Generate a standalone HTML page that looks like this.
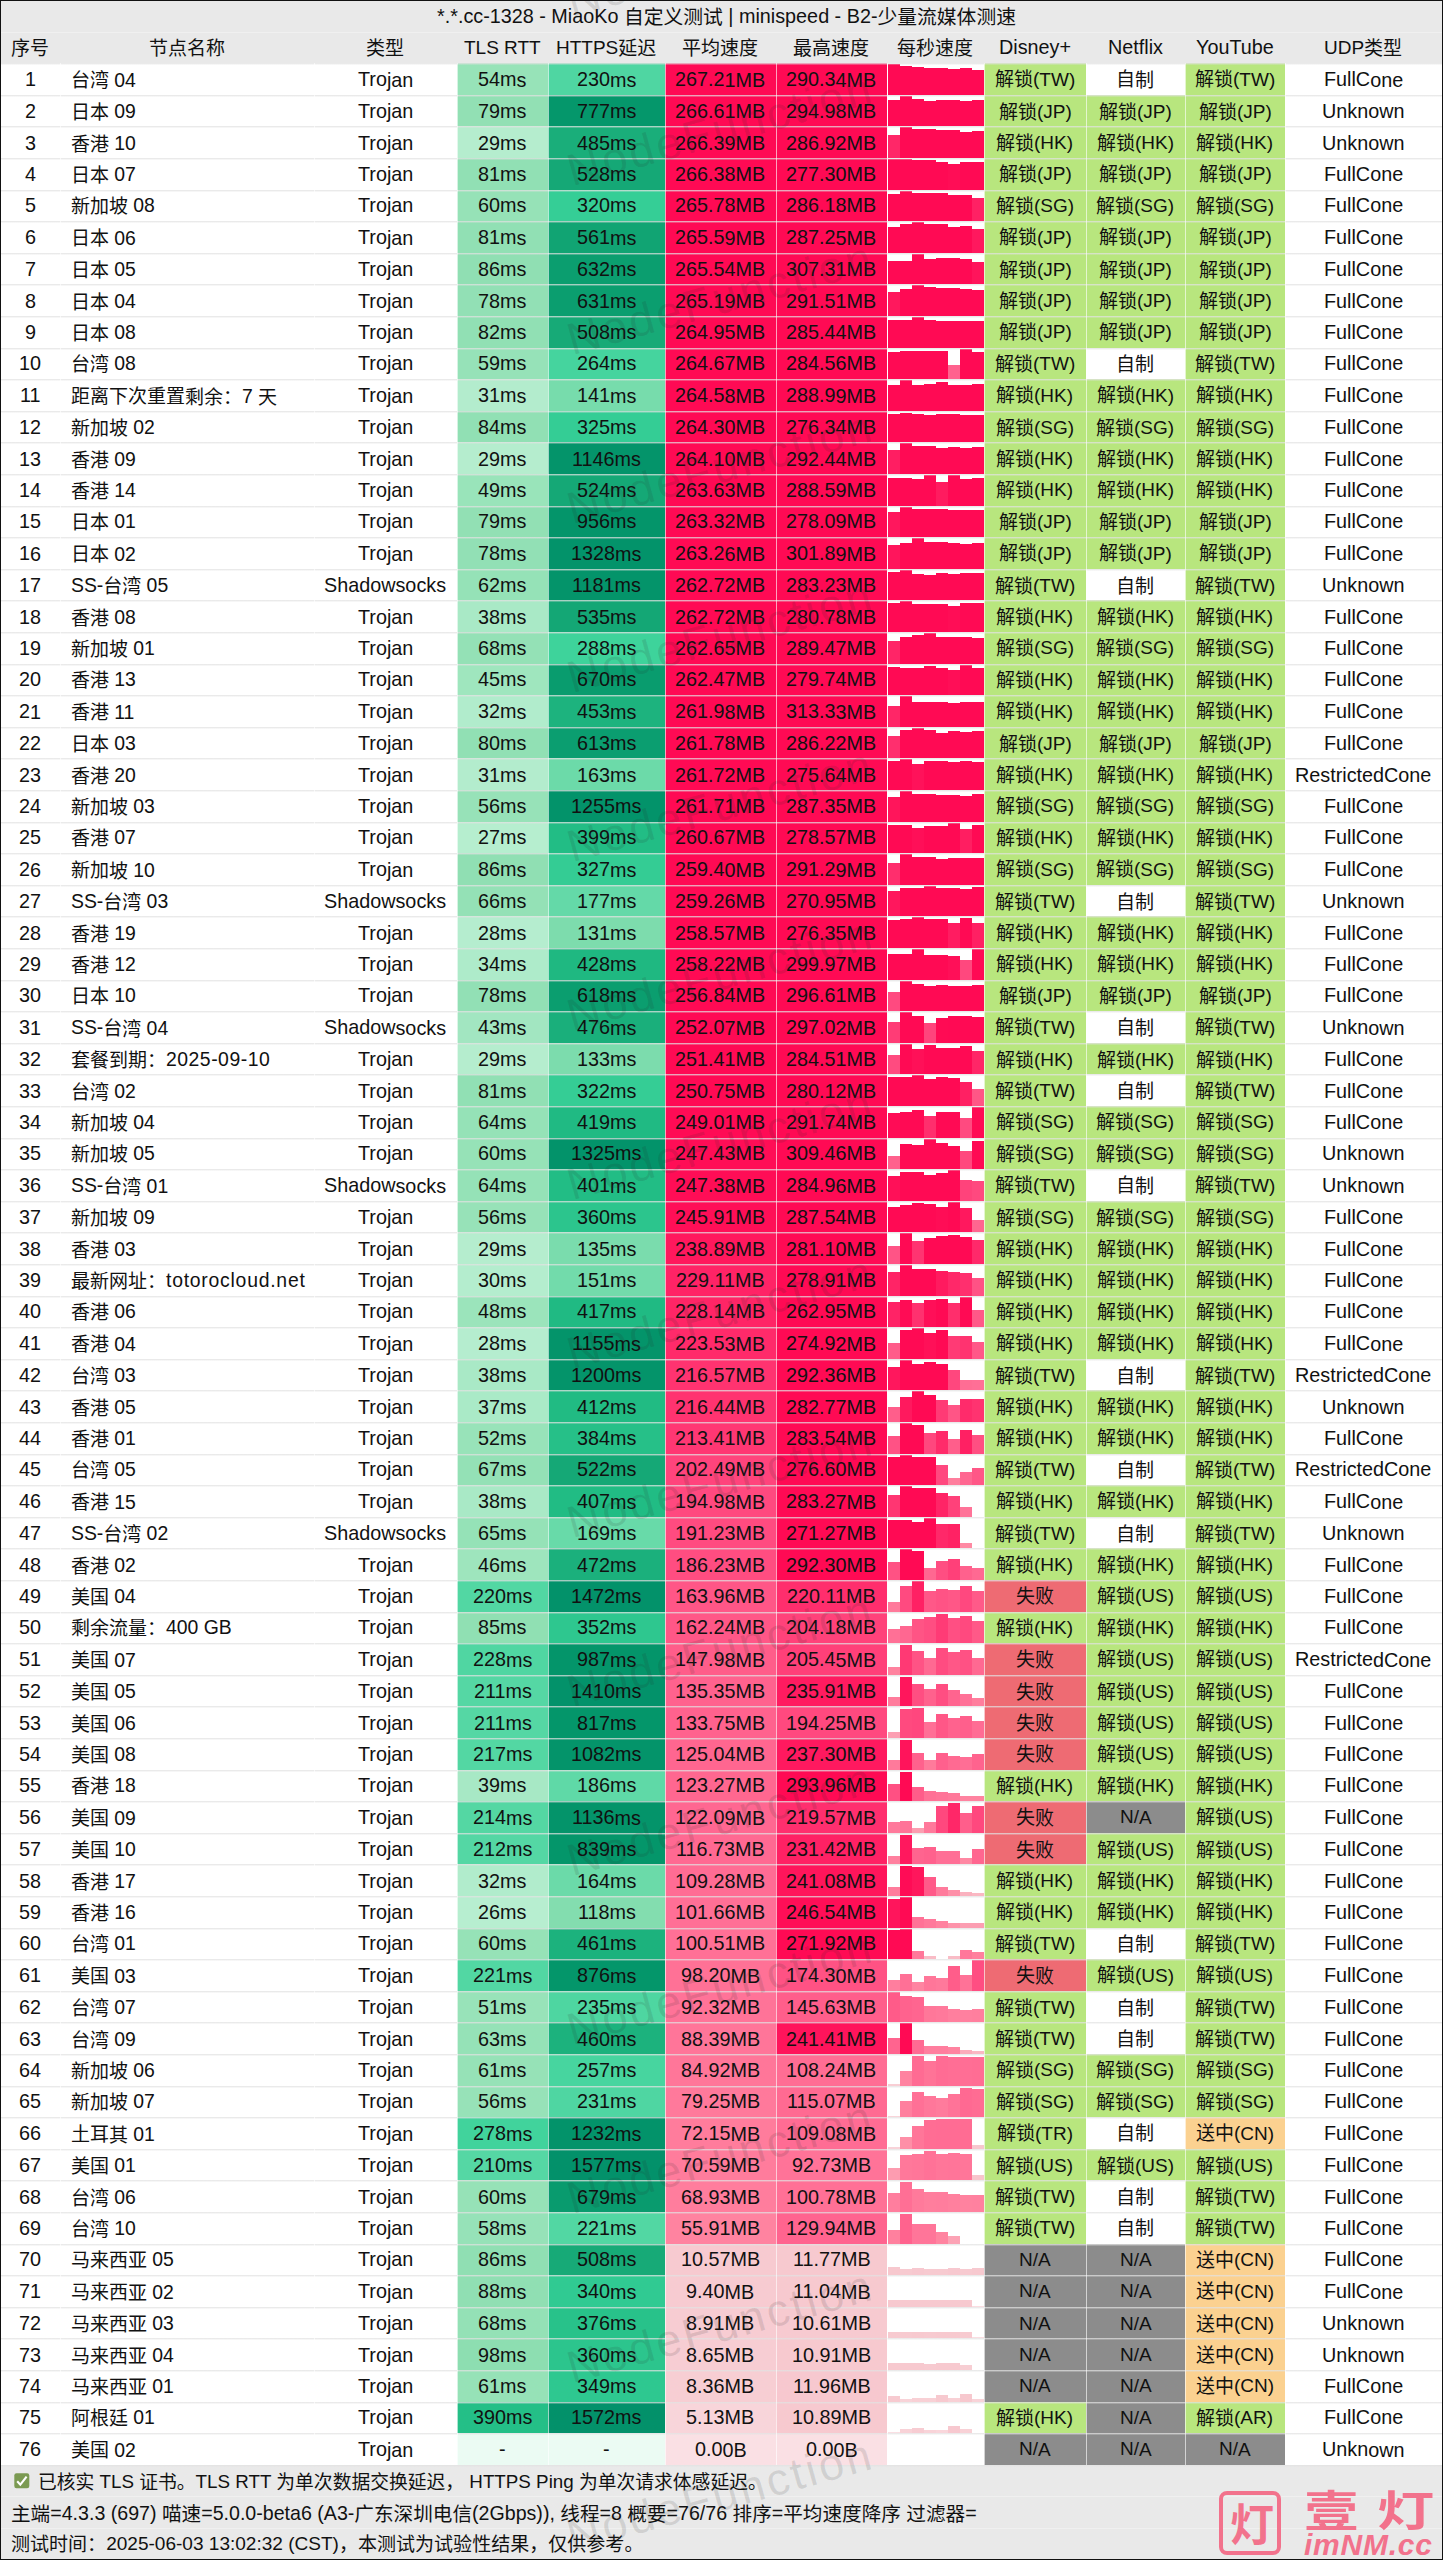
<!DOCTYPE html><html lang="zh-CN"><head><meta charset="utf-8"><title>MiaoKo</title><style>

html,body{margin:0;padding:0;overflow:hidden}
body{width:1443px;height:2560px;position:relative;overflow:hidden;background:#fff;
 font-family:"Liberation Sans","Noto Sans CJK SC",sans-serif;font-size:19px;color:#111;}
.r{position:absolute;left:0;width:1443px;white-space:nowrap}
.c{position:absolute;top:0;height:100%;text-align:center;overflow:hidden}
.c span,.f{position:relative;display:inline-block;transform:translateY(calc(var(--d) + 1.5px)) rotate(.01deg)}
b{font-weight:normal;position:relative;top:-1px}
.n{text-align:left}
.n span{padding-left:11px}
.g{background:#e9e9e9}
.hl{position:absolute;left:1px;right:1px;height:2px;background:linear-gradient(rgba(226,226,226,.72) 50%,rgba(226,226,226,.3) 50%)}
.vl{position:absolute;width:1px;background:rgba(255,255,255,.62)}
.n b{font-size:19.4px}
.w1 b{letter-spacing:.5px}
.w2 b{letter-spacing:.75px}
.L b{font-size:19.8px}
.b{position:absolute;bottom:0}
.f{position:absolute;left:11px;white-space:nowrap;top:0}
.wm{position:absolute;font-size:45px;line-height:45px;height:45px;letter-spacing:3px;color:rgba(40,40,40,.13);transform-origin:0 100%;transform:rotate(-15.5deg);white-space:nowrap;font-family:"Liberation Sans",sans-serif}
.L{}

</style></head><body>
<div class="r g" style="top:0;height:63px"></div>
<div class="r g" style="top:2465px;height:95px"></div>
<div class="r" style="top:0px;height:32px;line-height:32px;--d:-0.20px"><div class="c" style="left:5px;width:1443px;font-size:19.8px"><span><b>*.*.cc-1328 - MiaoKo</b> 自定义测试 <b>| minispeed - B2-</b>少量流媒体测速</span></div></div>
<div class="r" style="top:32px;height:31px;line-height:31px;--d:-0.10px">
<div class="c" style="left:1px;width:59px"><span>序号</span></div>
<div class="c" style="left:60px;width:254px"><span>节点名称</span></div>
<div class="c" style="left:314px;width:143px"><span>类型</span></div>
<div class="c" style="left:457px;width:91px"><span><b>TLS RTT</b></span></div>
<div class="c" style="left:548px;width:117px"><span><b>HTTPS</b>延迟</span></div>
<div class="c" style="left:665px;width:111px"><span>平均速度</span></div>
<div class="c" style="left:776px;width:111px"><span>最高速度</span></div>
<div class="c" style="left:887px;width:97px"><span>每秒速度</span></div>
<div class="c L" style="left:984px;width:102px"><span><b>Disney+</b></span></div>
<div class="c L" style="left:1086px;width:99px"><span><b>Netflix</b></span></div>
<div class="c L" style="left:1185px;width:100px"><span><b>YouTube</b></span></div>
<div class="c" style="left:1285px;width:157px"><span><b>UDP</b>类型</span></div>
</div>
<div class="r" style="top:63px;height:32px;line-height:32px;--d:0.00px">
<div class="c L" style="left:1px;width:59px"><span><b>1</b></span></div>
<div class="c n" style="left:60px;width:254px"><span>台湾 <b>04</b></span></div>
<div class="c L" style="left:314px;width:143px"><span><b>Trojan</b></span></div>
<div class="c L" style="left:457px;width:91px;background:#97e3b8"><span><b>54ms</b></span></div>
<div class="c L" style="left:548px;width:117px;background:#4fd6a2"><span><b>230ms</b></span></div>
<div class="c L" style="left:665px;width:111px;background:#ff0a54"><span><b>267.21MB</b></span></div>
<div class="c L" style="left:776px;width:111px;background:#ff0a54"><span><b>290.34MB</b></span></div>
<div class="c" style="left:887px;width:97px">
<i class="b" style="left:1px;width:12px;height:31px;background:#ff0a54"></i>
<i class="b" style="left:13px;width:12px;height:29px;background:#ff0a54"></i>
<i class="b" style="left:25px;width:12px;height:28px;background:#ff0a54"></i>
<i class="b" style="left:37px;width:12px;height:27px;background:#ff0a54"></i>
<i class="b" style="left:49px;width:12px;height:27px;background:#ff0a54"></i>
<i class="b" style="left:61px;width:12px;height:26px;background:#ff0a54"></i>
<i class="b" style="left:73px;width:12px;height:27px;background:#ff0a54"></i>
<i class="b" style="left:85px;width:12px;height:25px;background:#ff0a54"></i>
</div>
<div class="c" style="left:984px;width:102px;background:#b8e67e"><span>解锁<b>(TW)</b></span></div>
<div class="c" style="left:1086px;width:99px;background:#ffffff"><span>自制</span></div>
<div class="c" style="left:1185px;width:100px;background:#b8e67e"><span>解锁<b>(TW)</b></span></div>
<div class="c L" style="left:1285px;width:157px"><span><b>FullCone</b></span></div>
</div>
<div class="r" style="top:95px;height:31px;line-height:31px;--d:0.10px">
<div class="c L" style="left:1px;width:59px"><span><b>2</b></span></div>
<div class="c n" style="left:60px;width:254px"><span>日本 <b>09</b></span></div>
<div class="c L" style="left:314px;width:143px"><span><b>Trojan</b></span></div>
<div class="c L" style="left:457px;width:91px;background:#92e0b4"><span><b>79ms</b></span></div>
<div class="c L" style="left:548px;width:117px;background:#05976b"><span><b>777ms</b></span></div>
<div class="c L" style="left:665px;width:111px;background:#ff0a54"><span><b>266.61MB</b></span></div>
<div class="c L" style="left:776px;width:111px;background:#ff0a54"><span><b>294.98MB</b></span></div>
<div class="c" style="left:887px;width:97px">
<i class="b" style="left:1px;width:12px;height:26px;background:#ff0a54"></i>
<i class="b" style="left:13px;width:12px;height:30px;background:#ff0a54"></i>
<i class="b" style="left:25px;width:12px;height:27px;background:#ff0a54"></i>
<i class="b" style="left:37px;width:12px;height:25px;background:#ff0a54"></i>
<i class="b" style="left:49px;width:12px;height:26px;background:#ff0a54"></i>
<i class="b" style="left:61px;width:12px;height:26px;background:#ff0a54"></i>
<i class="b" style="left:73px;width:12px;height:25px;background:#ff0a54"></i>
<i class="b" style="left:85px;width:12px;height:26px;background:#ff0a54"></i>
</div>
<div class="c" style="left:984px;width:102px;background:#b8e67e"><span>解锁<b>(JP)</b></span></div>
<div class="c" style="left:1086px;width:99px;background:#b8e67e"><span>解锁<b>(JP)</b></span></div>
<div class="c" style="left:1185px;width:100px;background:#b8e67e"><span>解锁<b>(JP)</b></span></div>
<div class="c L" style="left:1285px;width:157px"><span><b>Unknown</b></span></div>
</div>
<div class="r" style="top:126px;height:32px;line-height:32px;--d:0.20px">
<div class="c L" style="left:1px;width:59px"><span><b>3</b></span></div>
<div class="c n" style="left:60px;width:254px"><span>香港 <b>10</b></span></div>
<div class="c L" style="left:314px;width:143px"><span><b>Trojan</b></span></div>
<div class="c L" style="left:457px;width:91px;background:#b5edce"><span><b>29ms</b></span></div>
<div class="c L" style="left:548px;width:117px;background:#1aae7a"><span><b>485ms</b></span></div>
<div class="c L" style="left:665px;width:111px;background:#ff0a54"><span><b>266.39MB</b></span></div>
<div class="c L" style="left:776px;width:111px;background:#ff0a54"><span><b>286.92MB</b></span></div>
<div class="c" style="left:887px;width:97px">
<i class="b" style="left:1px;width:12px;height:23px;background:#ff2768"></i>
<i class="b" style="left:13px;width:12px;height:31px;background:#ff0a54"></i>
<i class="b" style="left:25px;width:12px;height:29px;background:#ff0a54"></i>
<i class="b" style="left:37px;width:12px;height:29px;background:#ff0a54"></i>
<i class="b" style="left:49px;width:12px;height:28px;background:#ff0a54"></i>
<i class="b" style="left:61px;width:12px;height:28px;background:#ff0a54"></i>
<i class="b" style="left:73px;width:12px;height:26px;background:#ff0a54"></i>
<i class="b" style="left:85px;width:12px;height:27px;background:#ff0a54"></i>
</div>
<div class="c" style="left:984px;width:102px;background:#b8e67e"><span>解锁<b>(HK)</b></span></div>
<div class="c" style="left:1086px;width:99px;background:#b8e67e"><span>解锁<b>(HK)</b></span></div>
<div class="c" style="left:1185px;width:100px;background:#b8e67e"><span>解锁<b>(HK)</b></span></div>
<div class="c L" style="left:1285px;width:157px"><span><b>Unknown</b></span></div>
</div>
<div class="r" style="top:158px;height:32px;line-height:32px;--d:-0.20px">
<div class="c L" style="left:1px;width:59px"><span><b>4</b></span></div>
<div class="c n" style="left:60px;width:254px"><span>日本 <b>07</b></span></div>
<div class="c L" style="left:314px;width:143px"><span><b>Trojan</b></span></div>
<div class="c L" style="left:457px;width:91px;background:#91e0b4"><span><b>81ms</b></span></div>
<div class="c L" style="left:548px;width:117px;background:#15a876"><span><b>528ms</b></span></div>
<div class="c L" style="left:665px;width:111px;background:#ff0a54"><span><b>266.38MB</b></span></div>
<div class="c L" style="left:776px;width:111px;background:#ff0a54"><span><b>277.30MB</b></span></div>
<div class="c" style="left:887px;width:97px">
<i class="b" style="left:1px;width:12px;height:31px;background:#ff0a54"></i>
<i class="b" style="left:13px;width:12px;height:31px;background:#ff0a54"></i>
<i class="b" style="left:25px;width:12px;height:30px;background:#ff0a54"></i>
<i class="b" style="left:37px;width:12px;height:30px;background:#ff0a54"></i>
<i class="b" style="left:49px;width:12px;height:28px;background:#ff0a54"></i>
<i class="b" style="left:61px;width:12px;height:26px;background:#ff0d56"></i>
<i class="b" style="left:73px;width:12px;height:28px;background:#ff0a54"></i>
<i class="b" style="left:85px;width:12px;height:28px;background:#ff0a54"></i>
</div>
<div class="c" style="left:984px;width:102px;background:#b8e67e"><span>解锁<b>(JP)</b></span></div>
<div class="c" style="left:1086px;width:99px;background:#b8e67e"><span>解锁<b>(JP)</b></span></div>
<div class="c" style="left:1185px;width:100px;background:#b8e67e"><span>解锁<b>(JP)</b></span></div>
<div class="c L" style="left:1285px;width:157px"><span><b>FullCone</b></span></div>
</div>
<div class="r" style="top:190px;height:31px;line-height:31px;--d:-0.10px">
<div class="c L" style="left:1px;width:59px"><span><b>5</b></span></div>
<div class="c n" style="left:60px;width:254px"><span>新加坡 <b>08</b></span></div>
<div class="c L" style="left:314px;width:143px"><span><b>Trojan</b></span></div>
<div class="c L" style="left:457px;width:91px;background:#96e2b7"><span><b>60ms</b></span></div>
<div class="c L" style="left:548px;width:117px;background:#35ce96"><span><b>320ms</b></span></div>
<div class="c L" style="left:665px;width:111px;background:#ff0a54"><span><b>265.78MB</b></span></div>
<div class="c L" style="left:776px;width:111px;background:#ff0a54"><span><b>286.18MB</b></span></div>
<div class="c" style="left:887px;width:97px">
<i class="b" style="left:1px;width:12px;height:27px;background:#ff0a54"></i>
<i class="b" style="left:13px;width:12px;height:30px;background:#ff0a54"></i>
<i class="b" style="left:25px;width:12px;height:28px;background:#ff0a54"></i>
<i class="b" style="left:37px;width:12px;height:28px;background:#ff0a54"></i>
<i class="b" style="left:49px;width:12px;height:28px;background:#ff0a54"></i>
<i class="b" style="left:61px;width:12px;height:26px;background:#ff0a54"></i>
<i class="b" style="left:73px;width:12px;height:26px;background:#ff0a54"></i>
<i class="b" style="left:85px;width:12px;height:23px;background:#ff2164"></i>
</div>
<div class="c" style="left:984px;width:102px;background:#b8e67e"><span>解锁<b>(SG)</b></span></div>
<div class="c" style="left:1086px;width:99px;background:#b8e67e"><span>解锁<b>(SG)</b></span></div>
<div class="c" style="left:1185px;width:100px;background:#b8e67e"><span>解锁<b>(SG)</b></span></div>
<div class="c L" style="left:1285px;width:157px"><span><b>FullCone</b></span></div>
</div>
<div class="r" style="top:221px;height:32px;line-height:32px;--d:0.00px">
<div class="c L" style="left:1px;width:59px"><span><b>6</b></span></div>
<div class="c n" style="left:60px;width:254px"><span>日本 <b>06</b></span></div>
<div class="c L" style="left:314px;width:143px"><span><b>Trojan</b></span></div>
<div class="c L" style="left:457px;width:91px;background:#91e0b4"><span><b>81ms</b></span></div>
<div class="c L" style="left:548px;width:117px;background:#11a473"><span><b>561ms</b></span></div>
<div class="c L" style="left:665px;width:111px;background:#ff0a54"><span><b>265.59MB</b></span></div>
<div class="c L" style="left:776px;width:111px;background:#ff0a54"><span><b>287.25MB</b></span></div>
<div class="c" style="left:887px;width:97px">
<i class="b" style="left:1px;width:12px;height:26px;background:#ff0a54"></i>
<i class="b" style="left:13px;width:12px;height:29px;background:#ff0a54"></i>
<i class="b" style="left:25px;width:12px;height:31px;background:#ff0a54"></i>
<i class="b" style="left:37px;width:12px;height:29px;background:#ff0a54"></i>
<i class="b" style="left:49px;width:12px;height:29px;background:#ff0a54"></i>
<i class="b" style="left:61px;width:12px;height:26px;background:#ff0a54"></i>
<i class="b" style="left:73px;width:12px;height:27px;background:#ff0a54"></i>
<i class="b" style="left:85px;width:12px;height:24px;background:#ff185e"></i>
</div>
<div class="c" style="left:984px;width:102px;background:#b8e67e"><span>解锁<b>(JP)</b></span></div>
<div class="c" style="left:1086px;width:99px;background:#b8e67e"><span>解锁<b>(JP)</b></span></div>
<div class="c" style="left:1185px;width:100px;background:#b8e67e"><span>解锁<b>(JP)</b></span></div>
<div class="c L" style="left:1285px;width:157px"><span><b>FullCone</b></span></div>
</div>
<div class="r" style="top:253px;height:31px;line-height:31px;--d:0.10px">
<div class="c L" style="left:1px;width:59px"><span><b>7</b></span></div>
<div class="c n" style="left:60px;width:254px"><span>日本 <b>05</b></span></div>
<div class="c L" style="left:314px;width:143px"><span><b>Trojan</b></span></div>
<div class="c L" style="left:457px;width:91px;background:#90dfb3"><span><b>86ms</b></span></div>
<div class="c L" style="left:548px;width:117px;background:#0b9e6f"><span><b>632ms</b></span></div>
<div class="c L" style="left:665px;width:111px;background:#ff0a54"><span><b>265.54MB</b></span></div>
<div class="c L" style="left:776px;width:111px;background:#ff0a54"><span><b>307.31MB</b></span></div>
<div class="c" style="left:887px;width:97px">
<i class="b" style="left:1px;width:12px;height:23px;background:#ff0a54"></i>
<i class="b" style="left:13px;width:12px;height:23px;background:#ff0a54"></i>
<i class="b" style="left:25px;width:12px;height:30px;background:#ff0a54"></i>
<i class="b" style="left:37px;width:12px;height:25px;background:#ff0a54"></i>
<i class="b" style="left:49px;width:12px;height:26px;background:#ff0a54"></i>
<i class="b" style="left:61px;width:12px;height:26px;background:#ff0a54"></i>
<i class="b" style="left:73px;width:12px;height:25px;background:#ff0a54"></i>
<i class="b" style="left:85px;width:12px;height:22px;background:#ff145b"></i>
</div>
<div class="c" style="left:984px;width:102px;background:#b8e67e"><span>解锁<b>(JP)</b></span></div>
<div class="c" style="left:1086px;width:99px;background:#b8e67e"><span>解锁<b>(JP)</b></span></div>
<div class="c" style="left:1185px;width:100px;background:#b8e67e"><span>解锁<b>(JP)</b></span></div>
<div class="c L" style="left:1285px;width:157px"><span><b>FullCone</b></span></div>
</div>
<div class="r" style="top:284px;height:32px;line-height:32px;--d:0.20px">
<div class="c L" style="left:1px;width:59px"><span><b>8</b></span></div>
<div class="c n" style="left:60px;width:254px"><span>日本 <b>04</b></span></div>
<div class="c L" style="left:314px;width:143px"><span><b>Trojan</b></span></div>
<div class="c L" style="left:457px;width:91px;background:#92e0b5"><span><b>78ms</b></span></div>
<div class="c L" style="left:548px;width:117px;background:#0b9e6f"><span><b>631ms</b></span></div>
<div class="c L" style="left:665px;width:111px;background:#ff0a54"><span><b>265.19MB</b></span></div>
<div class="c L" style="left:776px;width:111px;background:#ff0a54"><span><b>291.51MB</b></span></div>
<div class="c" style="left:887px;width:97px">
<i class="b" style="left:1px;width:12px;height:24px;background:#ff185d"></i>
<i class="b" style="left:13px;width:12px;height:27px;background:#ff0a54"></i>
<i class="b" style="left:25px;width:12px;height:31px;background:#ff0a54"></i>
<i class="b" style="left:37px;width:12px;height:29px;background:#ff0a54"></i>
<i class="b" style="left:49px;width:12px;height:28px;background:#ff0a54"></i>
<i class="b" style="left:61px;width:12px;height:28px;background:#ff0a54"></i>
<i class="b" style="left:73px;width:12px;height:27px;background:#ff0a54"></i>
<i class="b" style="left:85px;width:12px;height:26px;background:#ff0a54"></i>
</div>
<div class="c" style="left:984px;width:102px;background:#b8e67e"><span>解锁<b>(JP)</b></span></div>
<div class="c" style="left:1086px;width:99px;background:#b8e67e"><span>解锁<b>(JP)</b></span></div>
<div class="c" style="left:1185px;width:100px;background:#b8e67e"><span>解锁<b>(JP)</b></span></div>
<div class="c L" style="left:1285px;width:157px"><span><b>FullCone</b></span></div>
</div>
<div class="r" style="top:316px;height:32px;line-height:32px;--d:-0.20px">
<div class="c L" style="left:1px;width:59px"><span><b>9</b></span></div>
<div class="c n" style="left:60px;width:254px"><span>日本 <b>08</b></span></div>
<div class="c L" style="left:314px;width:143px"><span><b>Trojan</b></span></div>
<div class="c L" style="left:457px;width:91px;background:#91e0b4"><span><b>82ms</b></span></div>
<div class="c L" style="left:548px;width:117px;background:#17aa77"><span><b>508ms</b></span></div>
<div class="c L" style="left:665px;width:111px;background:#ff0a54"><span><b>264.95MB</b></span></div>
<div class="c L" style="left:776px;width:111px;background:#ff0a54"><span><b>285.44MB</b></span></div>
<div class="c" style="left:887px;width:97px">
<i class="b" style="left:1px;width:12px;height:28px;background:#ff0a54"></i>
<i class="b" style="left:13px;width:12px;height:28px;background:#ff0a54"></i>
<i class="b" style="left:25px;width:12px;height:31px;background:#ff0a54"></i>
<i class="b" style="left:37px;width:12px;height:28px;background:#ff0a54"></i>
<i class="b" style="left:49px;width:12px;height:27px;background:#ff0a54"></i>
<i class="b" style="left:61px;width:12px;height:27px;background:#ff0a54"></i>
<i class="b" style="left:73px;width:12px;height:27px;background:#ff0a54"></i>
<i class="b" style="left:85px;width:12px;height:27px;background:#ff0a54"></i>
</div>
<div class="c" style="left:984px;width:102px;background:#b8e67e"><span>解锁<b>(JP)</b></span></div>
<div class="c" style="left:1086px;width:99px;background:#b8e67e"><span>解锁<b>(JP)</b></span></div>
<div class="c" style="left:1185px;width:100px;background:#b8e67e"><span>解锁<b>(JP)</b></span></div>
<div class="c L" style="left:1285px;width:157px"><span><b>FullCone</b></span></div>
</div>
<div class="r" style="top:348px;height:31px;line-height:31px;--d:-0.10px">
<div class="c L" style="left:1px;width:59px"><span><b>10</b></span></div>
<div class="c n" style="left:60px;width:254px"><span>台湾 <b>08</b></span></div>
<div class="c L" style="left:314px;width:143px"><span><b>Trojan</b></span></div>
<div class="c L" style="left:457px;width:91px;background:#96e2b8"><span><b>59ms</b></span></div>
<div class="c L" style="left:548px;width:117px;background:#45d49e"><span><b>264ms</b></span></div>
<div class="c L" style="left:665px;width:111px;background:#ff0a54"><span><b>264.67MB</b></span></div>
<div class="c L" style="left:776px;width:111px;background:#ff0a54"><span><b>284.56MB</b></span></div>
<div class="c" style="left:887px;width:97px">
<i class="b" style="left:1px;width:12px;height:27px;background:#ff0a54"></i>
<i class="b" style="left:13px;width:12px;height:28px;background:#ff0a54"></i>
<i class="b" style="left:25px;width:12px;height:28px;background:#ff0a54"></i>
<i class="b" style="left:37px;width:12px;height:28px;background:#ff0a54"></i>
<i class="b" style="left:49px;width:12px;height:28px;background:#ff0a54"></i>
<i class="b" style="left:61px;width:12px;height:14px;background:#ff628e"></i>
<i class="b" style="left:73px;width:12px;height:30px;background:#ff0a54"></i>
<i class="b" style="left:85px;width:12px;height:27px;background:#ff0a54"></i>
</div>
<div class="c" style="left:984px;width:102px;background:#b8e67e"><span>解锁<b>(TW)</b></span></div>
<div class="c" style="left:1086px;width:99px;background:#ffffff"><span>自制</span></div>
<div class="c" style="left:1185px;width:100px;background:#b8e67e"><span>解锁<b>(TW)</b></span></div>
<div class="c L" style="left:1285px;width:157px"><span><b>FullCone</b></span></div>
</div>
<div class="r" style="top:379px;height:32px;line-height:32px;--d:0.00px">
<div class="c L" style="left:1px;width:59px"><span><b>11</b></span></div>
<div class="c n" style="left:60px;width:254px"><span>距离下次重置剩余：<b>7</b> 天</span></div>
<div class="c L" style="left:314px;width:143px"><span><b>Trojan</b></span></div>
<div class="c L" style="left:457px;width:91px;background:#b3eccd"><span><b>31ms</b></span></div>
<div class="c L" style="left:548px;width:117px;background:#77dcac"><span><b>141ms</b></span></div>
<div class="c L" style="left:665px;width:111px;background:#ff0a54"><span><b>264.58MB</b></span></div>
<div class="c L" style="left:776px;width:111px;background:#ff0a54"><span><b>288.99MB</b></span></div>
<div class="c" style="left:887px;width:97px">
<i class="b" style="left:1px;width:12px;height:26px;background:#ff0a54"></i>
<i class="b" style="left:13px;width:12px;height:31px;background:#ff0a54"></i>
<i class="b" style="left:25px;width:12px;height:26px;background:#ff0a54"></i>
<i class="b" style="left:37px;width:12px;height:27px;background:#ff0a54"></i>
<i class="b" style="left:49px;width:12px;height:29px;background:#ff0a54"></i>
<i class="b" style="left:61px;width:12px;height:26px;background:#ff0a54"></i>
<i class="b" style="left:73px;width:12px;height:26px;background:#ff0a54"></i>
<i class="b" style="left:85px;width:12px;height:27px;background:#ff0a54"></i>
</div>
<div class="c" style="left:984px;width:102px;background:#b8e67e"><span>解锁<b>(HK)</b></span></div>
<div class="c" style="left:1086px;width:99px;background:#b8e67e"><span>解锁<b>(HK)</b></span></div>
<div class="c" style="left:1185px;width:100px;background:#b8e67e"><span>解锁<b>(HK)</b></span></div>
<div class="c L" style="left:1285px;width:157px"><span><b>FullCone</b></span></div>
</div>
<div class="r" style="top:411px;height:31px;line-height:31px;--d:0.10px">
<div class="c L" style="left:1px;width:59px"><span><b>12</b></span></div>
<div class="c n" style="left:60px;width:254px"><span>新加坡 <b>02</b></span></div>
<div class="c L" style="left:314px;width:143px"><span><b>Trojan</b></span></div>
<div class="c L" style="left:457px;width:91px;background:#91e0b4"><span><b>84ms</b></span></div>
<div class="c L" style="left:548px;width:117px;background:#34cd95"><span><b>325ms</b></span></div>
<div class="c L" style="left:665px;width:111px;background:#ff0a54"><span><b>264.30MB</b></span></div>
<div class="c L" style="left:776px;width:111px;background:#ff0a54"><span><b>276.34MB</b></span></div>
<div class="c" style="left:887px;width:97px">
<i class="b" style="left:1px;width:12px;height:28px;background:#ff0a54"></i>
<i class="b" style="left:13px;width:12px;height:29px;background:#ff0a54"></i>
<i class="b" style="left:25px;width:12px;height:28px;background:#ff0a54"></i>
<i class="b" style="left:37px;width:12px;height:27px;background:#ff0a54"></i>
<i class="b" style="left:49px;width:12px;height:28px;background:#ff0a54"></i>
<i class="b" style="left:61px;width:12px;height:28px;background:#ff0a54"></i>
<i class="b" style="left:73px;width:12px;height:27px;background:#ff0a54"></i>
<i class="b" style="left:85px;width:12px;height:27px;background:#ff0a54"></i>
</div>
<div class="c" style="left:984px;width:102px;background:#b8e67e"><span>解锁<b>(SG)</b></span></div>
<div class="c" style="left:1086px;width:99px;background:#b8e67e"><span>解锁<b>(SG)</b></span></div>
<div class="c" style="left:1185px;width:100px;background:#b8e67e"><span>解锁<b>(SG)</b></span></div>
<div class="c L" style="left:1285px;width:157px"><span><b>FullCone</b></span></div>
</div>
<div class="r" style="top:442px;height:32px;line-height:32px;--d:0.20px">
<div class="c L" style="left:1px;width:59px"><span><b>13</b></span></div>
<div class="c n" style="left:60px;width:254px"><span>香港 <b>09</b></span></div>
<div class="c L" style="left:314px;width:143px"><span><b>Trojan</b></span></div>
<div class="c L" style="left:457px;width:91px;background:#b5edce"><span><b>29ms</b></span></div>
<div class="c L" style="left:548px;width:117px;background:#04946a"><span><b>1146ms</b></span></div>
<div class="c L" style="left:665px;width:111px;background:#ff0a54"><span><b>264.10MB</b></span></div>
<div class="c L" style="left:776px;width:111px;background:#ff0a54"><span><b>292.44MB</b></span></div>
<div class="c" style="left:887px;width:97px">
<i class="b" style="left:1px;width:12px;height:24px;background:#ff1e62"></i>
<i class="b" style="left:13px;width:12px;height:31px;background:#ff0a54"></i>
<i class="b" style="left:25px;width:12px;height:28px;background:#ff0a54"></i>
<i class="b" style="left:37px;width:12px;height:28px;background:#ff0a54"></i>
<i class="b" style="left:49px;width:12px;height:26px;background:#ff0a54"></i>
<i class="b" style="left:61px;width:12px;height:27px;background:#ff0a54"></i>
<i class="b" style="left:73px;width:12px;height:26px;background:#ff0a54"></i>
<i class="b" style="left:85px;width:12px;height:27px;background:#ff0a54"></i>
</div>
<div class="c" style="left:984px;width:102px;background:#b8e67e"><span>解锁<b>(HK)</b></span></div>
<div class="c" style="left:1086px;width:99px;background:#b8e67e"><span>解锁<b>(HK)</b></span></div>
<div class="c" style="left:1185px;width:100px;background:#b8e67e"><span>解锁<b>(HK)</b></span></div>
<div class="c L" style="left:1285px;width:157px"><span><b>FullCone</b></span></div>
</div>
<div class="r" style="top:474px;height:32px;line-height:32px;--d:-0.20px">
<div class="c L" style="left:1px;width:59px"><span><b>14</b></span></div>
<div class="c n" style="left:60px;width:254px"><span>香港 <b>14</b></span></div>
<div class="c L" style="left:314px;width:143px"><span><b>Trojan</b></span></div>
<div class="c L" style="left:457px;width:91px;background:#99e4ba"><span><b>49ms</b></span></div>
<div class="c L" style="left:548px;width:117px;background:#15a876"><span><b>524ms</b></span></div>
<div class="c L" style="left:665px;width:111px;background:#ff0a54"><span><b>263.63MB</b></span></div>
<div class="c L" style="left:776px;width:111px;background:#ff0a54"><span><b>288.59MB</b></span></div>
<div class="c" style="left:887px;width:97px">
<i class="b" style="left:1px;width:12px;height:28px;background:#ff0a54"></i>
<i class="b" style="left:13px;width:12px;height:28px;background:#ff0a54"></i>
<i class="b" style="left:25px;width:12px;height:27px;background:#ff0a54"></i>
<i class="b" style="left:37px;width:12px;height:31px;background:#ff0a54"></i>
<i class="b" style="left:49px;width:12px;height:24px;background:#ff1b5f"></i>
<i class="b" style="left:61px;width:12px;height:31px;background:#ff0a54"></i>
<i class="b" style="left:73px;width:12px;height:27px;background:#ff0a54"></i>
<i class="b" style="left:85px;width:12px;height:28px;background:#ff0a54"></i>
</div>
<div class="c" style="left:984px;width:102px;background:#b8e67e"><span>解锁<b>(HK)</b></span></div>
<div class="c" style="left:1086px;width:99px;background:#b8e67e"><span>解锁<b>(HK)</b></span></div>
<div class="c" style="left:1185px;width:100px;background:#b8e67e"><span>解锁<b>(HK)</b></span></div>
<div class="c L" style="left:1285px;width:157px"><span><b>FullCone</b></span></div>
</div>
<div class="r" style="top:506px;height:31px;line-height:31px;--d:-0.10px">
<div class="c L" style="left:1px;width:59px"><span><b>15</b></span></div>
<div class="c n" style="left:60px;width:254px"><span>日本 <b>01</b></span></div>
<div class="c L" style="left:314px;width:143px"><span><b>Trojan</b></span></div>
<div class="c L" style="left:457px;width:91px;background:#92e0b4"><span><b>79ms</b></span></div>
<div class="c L" style="left:548px;width:117px;background:#04956a"><span><b>956ms</b></span></div>
<div class="c L" style="left:665px;width:111px;background:#ff0a54"><span><b>263.32MB</b></span></div>
<div class="c L" style="left:776px;width:111px;background:#ff0a54"><span><b>278.09MB</b></span></div>
<div class="c" style="left:887px;width:97px">
<i class="b" style="left:1px;width:12px;height:25px;background:#ff175d"></i>
<i class="b" style="left:13px;width:12px;height:30px;background:#ff0a54"></i>
<i class="b" style="left:25px;width:12px;height:28px;background:#ff0a54"></i>
<i class="b" style="left:37px;width:12px;height:28px;background:#ff0a54"></i>
<i class="b" style="left:49px;width:12px;height:28px;background:#ff0a54"></i>
<i class="b" style="left:61px;width:12px;height:27px;background:#ff0a54"></i>
<i class="b" style="left:73px;width:12px;height:27px;background:#ff0a54"></i>
<i class="b" style="left:85px;width:12px;height:27px;background:#ff0a54"></i>
</div>
<div class="c" style="left:984px;width:102px;background:#b8e67e"><span>解锁<b>(JP)</b></span></div>
<div class="c" style="left:1086px;width:99px;background:#b8e67e"><span>解锁<b>(JP)</b></span></div>
<div class="c" style="left:1185px;width:100px;background:#b8e67e"><span>解锁<b>(JP)</b></span></div>
<div class="c L" style="left:1285px;width:157px"><span><b>FullCone</b></span></div>
</div>
<div class="r" style="top:537px;height:32px;line-height:32px;--d:0.00px">
<div class="c L" style="left:1px;width:59px"><span><b>16</b></span></div>
<div class="c n" style="left:60px;width:254px"><span>日本 <b>02</b></span></div>
<div class="c L" style="left:314px;width:143px"><span><b>Trojan</b></span></div>
<div class="c L" style="left:457px;width:91px;background:#92e0b5"><span><b>78ms</b></span></div>
<div class="c L" style="left:548px;width:117px;background:#03936a"><span><b>1328ms</b></span></div>
<div class="c L" style="left:665px;width:111px;background:#ff0a54"><span><b>263.26MB</b></span></div>
<div class="c L" style="left:776px;width:111px;background:#ff0a54"><span><b>301.89MB</b></span></div>
<div class="c" style="left:887px;width:97px">
<i class="b" style="left:1px;width:12px;height:24px;background:#ff155c"></i>
<i class="b" style="left:13px;width:12px;height:26px;background:#ff0a54"></i>
<i class="b" style="left:25px;width:12px;height:31px;background:#ff0a54"></i>
<i class="b" style="left:37px;width:12px;height:27px;background:#ff0a54"></i>
<i class="b" style="left:49px;width:12px;height:27px;background:#ff0a54"></i>
<i class="b" style="left:61px;width:12px;height:26px;background:#ff0a54"></i>
<i class="b" style="left:73px;width:12px;height:25px;background:#ff0a54"></i>
<i class="b" style="left:85px;width:12px;height:26px;background:#ff0a54"></i>
</div>
<div class="c" style="left:984px;width:102px;background:#b8e67e"><span>解锁<b>(JP)</b></span></div>
<div class="c" style="left:1086px;width:99px;background:#b8e67e"><span>解锁<b>(JP)</b></span></div>
<div class="c" style="left:1185px;width:100px;background:#b8e67e"><span>解锁<b>(JP)</b></span></div>
<div class="c L" style="left:1285px;width:157px"><span><b>FullCone</b></span></div>
</div>
<div class="r" style="top:569px;height:31px;line-height:31px;--d:0.10px">
<div class="c L" style="left:1px;width:59px"><span><b>17</b></span></div>
<div class="c n" style="left:60px;width:254px"><span><b>SS-</b>台湾 <b>05</b></span></div>
<div class="c L" style="left:314px;width:143px"><span><b>Shadowsocks</b></span></div>
<div class="c L" style="left:457px;width:91px;background:#95e2b7"><span><b>62ms</b></span></div>
<div class="c L" style="left:548px;width:117px;background:#04946a"><span><b>1181ms</b></span></div>
<div class="c L" style="left:665px;width:111px;background:#ff0a54"><span><b>262.72MB</b></span></div>
<div class="c L" style="left:776px;width:111px;background:#ff0a54"><span><b>283.23MB</b></span></div>
<div class="c" style="left:887px;width:97px">
<i class="b" style="left:1px;width:12px;height:28px;background:#ff0a54"></i>
<i class="b" style="left:13px;width:12px;height:30px;background:#ff0a54"></i>
<i class="b" style="left:25px;width:12px;height:26px;background:#ff0a54"></i>
<i class="b" style="left:37px;width:12px;height:25px;background:#ff0a54"></i>
<i class="b" style="left:49px;width:12px;height:27px;background:#ff0a54"></i>
<i class="b" style="left:61px;width:12px;height:26px;background:#ff0a54"></i>
<i class="b" style="left:73px;width:12px;height:27px;background:#ff0a54"></i>
<i class="b" style="left:85px;width:12px;height:27px;background:#ff0a54"></i>
</div>
<div class="c" style="left:984px;width:102px;background:#b8e67e"><span>解锁<b>(TW)</b></span></div>
<div class="c" style="left:1086px;width:99px;background:#ffffff"><span>自制</span></div>
<div class="c" style="left:1185px;width:100px;background:#b8e67e"><span>解锁<b>(TW)</b></span></div>
<div class="c L" style="left:1285px;width:157px"><span><b>Unknown</b></span></div>
</div>
<div class="r" style="top:600px;height:32px;line-height:32px;--d:0.20px">
<div class="c L" style="left:1px;width:59px"><span><b>18</b></span></div>
<div class="c n" style="left:60px;width:254px"><span>香港 <b>08</b></span></div>
<div class="c L" style="left:314px;width:143px"><span><b>Trojan</b></span></div>
<div class="c L" style="left:457px;width:91px;background:#a9e9c6"><span><b>38ms</b></span></div>
<div class="c L" style="left:548px;width:117px;background:#14a775"><span><b>535ms</b></span></div>
<div class="c L" style="left:665px;width:111px;background:#ff0a54"><span><b>262.72MB</b></span></div>
<div class="c L" style="left:776px;width:111px;background:#ff0a54"><span><b>280.78MB</b></span></div>
<div class="c" style="left:887px;width:97px">
<i class="b" style="left:1px;width:12px;height:29px;background:#ff0a54"></i>
<i class="b" style="left:13px;width:12px;height:31px;background:#ff0a54"></i>
<i class="b" style="left:25px;width:12px;height:28px;background:#ff0a54"></i>
<i class="b" style="left:37px;width:12px;height:28px;background:#ff0a54"></i>
<i class="b" style="left:49px;width:12px;height:28px;background:#ff0a54"></i>
<i class="b" style="left:61px;width:12px;height:26px;background:#ff0d56"></i>
<i class="b" style="left:73px;width:12px;height:29px;background:#ff0a54"></i>
<i class="b" style="left:85px;width:12px;height:29px;background:#ff0a54"></i>
</div>
<div class="c" style="left:984px;width:102px;background:#b8e67e"><span>解锁<b>(HK)</b></span></div>
<div class="c" style="left:1086px;width:99px;background:#b8e67e"><span>解锁<b>(HK)</b></span></div>
<div class="c" style="left:1185px;width:100px;background:#b8e67e"><span>解锁<b>(HK)</b></span></div>
<div class="c L" style="left:1285px;width:157px"><span><b>FullCone</b></span></div>
</div>
<div class="r" style="top:632px;height:32px;line-height:32px;--d:-0.20px">
<div class="c L" style="left:1px;width:59px"><span><b>19</b></span></div>
<div class="c n" style="left:60px;width:254px"><span>新加坡 <b>01</b></span></div>
<div class="c L" style="left:314px;width:143px"><span><b>Trojan</b></span></div>
<div class="c L" style="left:457px;width:91px;background:#94e1b6"><span><b>68ms</b></span></div>
<div class="c L" style="left:548px;width:117px;background:#3ed39b"><span><b>288ms</b></span></div>
<div class="c L" style="left:665px;width:111px;background:#ff0a54"><span><b>262.65MB</b></span></div>
<div class="c L" style="left:776px;width:111px;background:#ff0a54"><span><b>289.47MB</b></span></div>
<div class="c" style="left:887px;width:97px">
<i class="b" style="left:1px;width:12px;height:23px;background:#ff2567"></i>
<i class="b" style="left:13px;width:12px;height:27px;background:#ff0a54"></i>
<i class="b" style="left:25px;width:12px;height:29px;background:#ff0a54"></i>
<i class="b" style="left:37px;width:12px;height:31px;background:#ff0a54"></i>
<i class="b" style="left:49px;width:12px;height:27px;background:#ff0a54"></i>
<i class="b" style="left:61px;width:12px;height:27px;background:#ff0a54"></i>
<i class="b" style="left:73px;width:12px;height:27px;background:#ff0a54"></i>
<i class="b" style="left:85px;width:12px;height:26px;background:#ff0a54"></i>
</div>
<div class="c" style="left:984px;width:102px;background:#b8e67e"><span>解锁<b>(SG)</b></span></div>
<div class="c" style="left:1086px;width:99px;background:#b8e67e"><span>解锁<b>(SG)</b></span></div>
<div class="c" style="left:1185px;width:100px;background:#b8e67e"><span>解锁<b>(SG)</b></span></div>
<div class="c L" style="left:1285px;width:157px"><span><b>FullCone</b></span></div>
</div>
<div class="r" style="top:664px;height:31px;line-height:31px;--d:-0.10px">
<div class="c L" style="left:1px;width:59px"><span><b>20</b></span></div>
<div class="c n" style="left:60px;width:254px"><span>香港 <b>13</b></span></div>
<div class="c L" style="left:314px;width:143px"><span><b>Trojan</b></span></div>
<div class="c L" style="left:457px;width:91px;background:#9fe6be"><span><b>45ms</b></span></div>
<div class="c L" style="left:548px;width:117px;background:#099c6e"><span><b>670ms</b></span></div>
<div class="c L" style="left:665px;width:111px;background:#ff0a54"><span><b>262.47MB</b></span></div>
<div class="c L" style="left:776px;width:111px;background:#ff0a54"><span><b>279.74MB</b></span></div>
<div class="c" style="left:887px;width:97px">
<i class="b" style="left:1px;width:12px;height:28px;background:#ff0a54"></i>
<i class="b" style="left:13px;width:12px;height:27px;background:#ff0a54"></i>
<i class="b" style="left:25px;width:12px;height:27px;background:#ff0a54"></i>
<i class="b" style="left:37px;width:12px;height:29px;background:#ff0a54"></i>
<i class="b" style="left:49px;width:12px;height:27px;background:#ff0a54"></i>
<i class="b" style="left:61px;width:12px;height:25px;background:#ff0e57"></i>
<i class="b" style="left:73px;width:12px;height:30px;background:#ff0a54"></i>
<i class="b" style="left:85px;width:12px;height:27px;background:#ff0a54"></i>
</div>
<div class="c" style="left:984px;width:102px;background:#b8e67e"><span>解锁<b>(HK)</b></span></div>
<div class="c" style="left:1086px;width:99px;background:#b8e67e"><span>解锁<b>(HK)</b></span></div>
<div class="c" style="left:1185px;width:100px;background:#b8e67e"><span>解锁<b>(HK)</b></span></div>
<div class="c L" style="left:1285px;width:157px"><span><b>FullCone</b></span></div>
</div>
<div class="r" style="top:695px;height:32px;line-height:32px;--d:0.00px">
<div class="c L" style="left:1px;width:59px"><span><b>21</b></span></div>
<div class="c n" style="left:60px;width:254px"><span>香港 <b>11</b></span></div>
<div class="c L" style="left:314px;width:143px"><span><b>Trojan</b></span></div>
<div class="c L" style="left:457px;width:91px;background:#b1eccc"><span><b>32ms</b></span></div>
<div class="c L" style="left:548px;width:117px;background:#1db37e"><span><b>453ms</b></span></div>
<div class="c L" style="left:665px;width:111px;background:#ff0a54"><span><b>261.98MB</b></span></div>
<div class="c L" style="left:776px;width:111px;background:#ff0a54"><span><b>313.33MB</b></span></div>
<div class="c" style="left:887px;width:97px">
<i class="b" style="left:1px;width:12px;height:21px;background:#ff2667"></i>
<i class="b" style="left:13px;width:12px;height:31px;background:#ff0a54"></i>
<i class="b" style="left:25px;width:12px;height:25px;background:#ff0a54"></i>
<i class="b" style="left:37px;width:12px;height:25px;background:#ff0a54"></i>
<i class="b" style="left:49px;width:12px;height:25px;background:#ff0a54"></i>
<i class="b" style="left:61px;width:12px;height:24px;background:#ff0a54"></i>
<i class="b" style="left:73px;width:12px;height:25px;background:#ff0a54"></i>
<i class="b" style="left:85px;width:12px;height:25px;background:#ff0a54"></i>
</div>
<div class="c" style="left:984px;width:102px;background:#b8e67e"><span>解锁<b>(HK)</b></span></div>
<div class="c" style="left:1086px;width:99px;background:#b8e67e"><span>解锁<b>(HK)</b></span></div>
<div class="c" style="left:1185px;width:100px;background:#b8e67e"><span>解锁<b>(HK)</b></span></div>
<div class="c L" style="left:1285px;width:157px"><span><b>FullCone</b></span></div>
</div>
<div class="r" style="top:727px;height:31px;line-height:31px;--d:0.10px">
<div class="c L" style="left:1px;width:59px"><span><b>22</b></span></div>
<div class="c n" style="left:60px;width:254px"><span>日本 <b>03</b></span></div>
<div class="c L" style="left:314px;width:143px"><span><b>Trojan</b></span></div>
<div class="c L" style="left:457px;width:91px;background:#91e0b4"><span><b>80ms</b></span></div>
<div class="c L" style="left:548px;width:117px;background:#0b9e70"><span><b>613ms</b></span></div>
<div class="c L" style="left:665px;width:111px;background:#ff0a54"><span><b>261.78MB</b></span></div>
<div class="c L" style="left:776px;width:111px;background:#ff0a54"><span><b>286.22MB</b></span></div>
<div class="c" style="left:887px;width:97px">
<i class="b" style="left:1px;width:12px;height:22px;background:#ff2f6e"></i>
<i class="b" style="left:13px;width:12px;height:28px;background:#ff0a54"></i>
<i class="b" style="left:25px;width:12px;height:30px;background:#ff0a54"></i>
<i class="b" style="left:37px;width:12px;height:28px;background:#ff0a54"></i>
<i class="b" style="left:49px;width:12px;height:25px;background:#ff0a54"></i>
<i class="b" style="left:61px;width:12px;height:27px;background:#ff0a54"></i>
<i class="b" style="left:73px;width:12px;height:26px;background:#ff0a54"></i>
<i class="b" style="left:85px;width:12px;height:27px;background:#ff0a54"></i>
</div>
<div class="c" style="left:984px;width:102px;background:#b8e67e"><span>解锁<b>(JP)</b></span></div>
<div class="c" style="left:1086px;width:99px;background:#b8e67e"><span>解锁<b>(JP)</b></span></div>
<div class="c" style="left:1185px;width:100px;background:#b8e67e"><span>解锁<b>(JP)</b></span></div>
<div class="c L" style="left:1285px;width:157px"><span><b>FullCone</b></span></div>
</div>
<div class="r" style="top:758px;height:32px;line-height:32px;--d:0.20px">
<div class="c L" style="left:1px;width:59px"><span><b>23</b></span></div>
<div class="c n" style="left:60px;width:254px"><span>香港 <b>20</b></span></div>
<div class="c L" style="left:314px;width:143px"><span><b>Trojan</b></span></div>
<div class="c L" style="left:457px;width:91px;background:#b3eccd"><span><b>31ms</b></span></div>
<div class="c L" style="left:548px;width:117px;background:#6cdaa9"><span><b>163ms</b></span></div>
<div class="c L" style="left:665px;width:111px;background:#ff0a54"><span><b>261.72MB</b></span></div>
<div class="c L" style="left:776px;width:111px;background:#ff0a54"><span><b>275.64MB</b></span></div>
<div class="c" style="left:887px;width:97px">
<i class="b" style="left:1px;width:12px;height:29px;background:#ff0a54"></i>
<i class="b" style="left:13px;width:12px;height:31px;background:#ff0a54"></i>
<i class="b" style="left:25px;width:12px;height:26px;background:#ff125a"></i>
<i class="b" style="left:37px;width:12px;height:29px;background:#ff0a54"></i>
<i class="b" style="left:49px;width:12px;height:29px;background:#ff0a54"></i>
<i class="b" style="left:61px;width:12px;height:28px;background:#ff0a54"></i>
<i class="b" style="left:73px;width:12px;height:29px;background:#ff0a54"></i>
<i class="b" style="left:85px;width:12px;height:28px;background:#ff0a54"></i>
</div>
<div class="c" style="left:984px;width:102px;background:#b8e67e"><span>解锁<b>(HK)</b></span></div>
<div class="c" style="left:1086px;width:99px;background:#b8e67e"><span>解锁<b>(HK)</b></span></div>
<div class="c" style="left:1185px;width:100px;background:#b8e67e"><span>解锁<b>(HK)</b></span></div>
<div class="c L" style="left:1285px;width:157px"><span><b>RestrictedCone</b></span></div>
</div>
<div class="r" style="top:790px;height:32px;line-height:32px;--d:-0.20px">
<div class="c L" style="left:1px;width:59px"><span><b>24</b></span></div>
<div class="c n" style="left:60px;width:254px"><span>新加坡 <b>03</b></span></div>
<div class="c L" style="left:314px;width:143px"><span><b>Trojan</b></span></div>
<div class="c L" style="left:457px;width:91px;background:#97e2b8"><span><b>56ms</b></span></div>
<div class="c L" style="left:548px;width:117px;background:#03936a"><span><b>1255ms</b></span></div>
<div class="c L" style="left:665px;width:111px;background:#ff0a54"><span><b>261.71MB</b></span></div>
<div class="c L" style="left:776px;width:111px;background:#ff0a54"><span><b>287.35MB</b></span></div>
<div class="c" style="left:887px;width:97px">
<i class="b" style="left:1px;width:12px;height:25px;background:#ff155b"></i>
<i class="b" style="left:13px;width:12px;height:31px;background:#ff0a54"></i>
<i class="b" style="left:25px;width:12px;height:28px;background:#ff0a54"></i>
<i class="b" style="left:37px;width:12px;height:28px;background:#ff0a54"></i>
<i class="b" style="left:49px;width:12px;height:27px;background:#ff0a54"></i>
<i class="b" style="left:61px;width:12px;height:27px;background:#ff0a54"></i>
<i class="b" style="left:73px;width:12px;height:26px;background:#ff0a54"></i>
<i class="b" style="left:85px;width:12px;height:28px;background:#ff0a54"></i>
</div>
<div class="c" style="left:984px;width:102px;background:#b8e67e"><span>解锁<b>(SG)</b></span></div>
<div class="c" style="left:1086px;width:99px;background:#b8e67e"><span>解锁<b>(SG)</b></span></div>
<div class="c" style="left:1185px;width:100px;background:#b8e67e"><span>解锁<b>(SG)</b></span></div>
<div class="c L" style="left:1285px;width:157px"><span><b>FullCone</b></span></div>
</div>
<div class="r" style="top:822px;height:31px;line-height:31px;--d:-0.10px">
<div class="c L" style="left:1px;width:59px"><span><b>25</b></span></div>
<div class="c n" style="left:60px;width:254px"><span>香港 <b>07</b></span></div>
<div class="c L" style="left:314px;width:143px"><span><b>Trojan</b></span></div>
<div class="c L" style="left:457px;width:91px;background:#b6eecf"><span><b>27ms</b></span></div>
<div class="c L" style="left:548px;width:117px;background:#22bd85"><span><b>399ms</b></span></div>
<div class="c L" style="left:665px;width:111px;background:#ff0a54"><span><b>260.67MB</b></span></div>
<div class="c L" style="left:776px;width:111px;background:#ff0a54"><span><b>278.57MB</b></span></div>
<div class="c" style="left:887px;width:97px">
<i class="b" style="left:1px;width:12px;height:28px;background:#ff0a54"></i>
<i class="b" style="left:13px;width:12px;height:28px;background:#ff0a54"></i>
<i class="b" style="left:25px;width:12px;height:25px;background:#ff0f58"></i>
<i class="b" style="left:37px;width:12px;height:27px;background:#ff0a54"></i>
<i class="b" style="left:49px;width:12px;height:27px;background:#ff0a54"></i>
<i class="b" style="left:61px;width:12px;height:30px;background:#ff0a54"></i>
<i class="b" style="left:73px;width:12px;height:24px;background:#ff1e61"></i>
<i class="b" style="left:85px;width:12px;height:28px;background:#ff0a54"></i>
</div>
<div class="c" style="left:984px;width:102px;background:#b8e67e"><span>解锁<b>(HK)</b></span></div>
<div class="c" style="left:1086px;width:99px;background:#b8e67e"><span>解锁<b>(HK)</b></span></div>
<div class="c" style="left:1185px;width:100px;background:#b8e67e"><span>解锁<b>(HK)</b></span></div>
<div class="c L" style="left:1285px;width:157px"><span><b>FullCone</b></span></div>
</div>
<div class="r" style="top:853px;height:32px;line-height:32px;--d:0.00px">
<div class="c L" style="left:1px;width:59px"><span><b>26</b></span></div>
<div class="c n" style="left:60px;width:254px"><span>新加坡 <b>10</b></span></div>
<div class="c L" style="left:314px;width:143px"><span><b>Trojan</b></span></div>
<div class="c L" style="left:457px;width:91px;background:#90dfb3"><span><b>86ms</b></span></div>
<div class="c L" style="left:548px;width:117px;background:#34cc94"><span><b>327ms</b></span></div>
<div class="c L" style="left:665px;width:111px;background:#ff0a54"><span><b>259.40MB</b></span></div>
<div class="c L" style="left:776px;width:111px;background:#ff0a54"><span><b>291.29MB</b></span></div>
<div class="c" style="left:887px;width:97px">
<i class="b" style="left:1px;width:12px;height:22px;background:#ff2e6d"></i>
<i class="b" style="left:13px;width:12px;height:31px;background:#ff0a54"></i>
<i class="b" style="left:25px;width:12px;height:28px;background:#ff0a54"></i>
<i class="b" style="left:37px;width:12px;height:28px;background:#ff0a54"></i>
<i class="b" style="left:49px;width:12px;height:26px;background:#ff0a54"></i>
<i class="b" style="left:61px;width:12px;height:27px;background:#ff0a54"></i>
<i class="b" style="left:73px;width:12px;height:27px;background:#ff0a54"></i>
<i class="b" style="left:85px;width:12px;height:27px;background:#ff0a54"></i>
</div>
<div class="c" style="left:984px;width:102px;background:#b8e67e"><span>解锁<b>(SG)</b></span></div>
<div class="c" style="left:1086px;width:99px;background:#b8e67e"><span>解锁<b>(SG)</b></span></div>
<div class="c" style="left:1185px;width:100px;background:#b8e67e"><span>解锁<b>(SG)</b></span></div>
<div class="c L" style="left:1285px;width:157px"><span><b>FullCone</b></span></div>
</div>
<div class="r" style="top:885px;height:31px;line-height:31px;--d:0.10px">
<div class="c L" style="left:1px;width:59px"><span><b>27</b></span></div>
<div class="c n" style="left:60px;width:254px"><span><b>SS-</b>台湾 <b>03</b></span></div>
<div class="c L" style="left:314px;width:143px"><span><b>Shadowsocks</b></span></div>
<div class="c L" style="left:457px;width:91px;background:#94e1b6"><span><b>66ms</b></span></div>
<div class="c L" style="left:548px;width:117px;background:#64d9a8"><span><b>177ms</b></span></div>
<div class="c L" style="left:665px;width:111px;background:#ff0a54"><span><b>259.26MB</b></span></div>
<div class="c L" style="left:776px;width:111px;background:#ff0a54"><span><b>270.95MB</b></span></div>
<div class="c" style="left:887px;width:97px">
<i class="b" style="left:1px;width:12px;height:25px;background:#ff175d"></i>
<i class="b" style="left:13px;width:12px;height:28px;background:#ff0a54"></i>
<i class="b" style="left:25px;width:12px;height:28px;background:#ff0a54"></i>
<i class="b" style="left:37px;width:12px;height:30px;background:#ff0a54"></i>
<i class="b" style="left:49px;width:12px;height:28px;background:#ff0a54"></i>
<i class="b" style="left:61px;width:12px;height:28px;background:#ff0a54"></i>
<i class="b" style="left:73px;width:12px;height:27px;background:#ff0a54"></i>
<i class="b" style="left:85px;width:12px;height:29px;background:#ff0a54"></i>
</div>
<div class="c" style="left:984px;width:102px;background:#b8e67e"><span>解锁<b>(TW)</b></span></div>
<div class="c" style="left:1086px;width:99px;background:#ffffff"><span>自制</span></div>
<div class="c" style="left:1185px;width:100px;background:#b8e67e"><span>解锁<b>(TW)</b></span></div>
<div class="c L" style="left:1285px;width:157px"><span><b>Unknown</b></span></div>
</div>
<div class="r" style="top:916px;height:32px;line-height:32px;--d:0.20px">
<div class="c L" style="left:1px;width:59px"><span><b>28</b></span></div>
<div class="c n" style="left:60px;width:254px"><span>香港 <b>19</b></span></div>
<div class="c L" style="left:314px;width:143px"><span><b>Trojan</b></span></div>
<div class="c L" style="left:457px;width:91px;background:#b5edcf"><span><b>28ms</b></span></div>
<div class="c L" style="left:548px;width:117px;background:#7ddcad"><span><b>131ms</b></span></div>
<div class="c L" style="left:665px;width:111px;background:#ff0a54"><span><b>258.57MB</b></span></div>
<div class="c L" style="left:776px;width:111px;background:#ff0a54"><span><b>276.35MB</b></span></div>
<div class="c" style="left:887px;width:97px">
<i class="b" style="left:1px;width:12px;height:28px;background:#ff0a54"></i>
<i class="b" style="left:13px;width:12px;height:29px;background:#ff0a54"></i>
<i class="b" style="left:25px;width:12px;height:31px;background:#ff0a54"></i>
<i class="b" style="left:37px;width:12px;height:29px;background:#ff0a54"></i>
<i class="b" style="left:49px;width:12px;height:29px;background:#ff0a54"></i>
<i class="b" style="left:61px;width:12px;height:25px;background:#ff1c61"></i>
<i class="b" style="left:73px;width:12px;height:30px;background:#ff0a54"></i>
<i class="b" style="left:85px;width:12px;height:25px;background:#ff2063"></i>
</div>
<div class="c" style="left:984px;width:102px;background:#b8e67e"><span>解锁<b>(HK)</b></span></div>
<div class="c" style="left:1086px;width:99px;background:#b8e67e"><span>解锁<b>(HK)</b></span></div>
<div class="c" style="left:1185px;width:100px;background:#b8e67e"><span>解锁<b>(HK)</b></span></div>
<div class="c L" style="left:1285px;width:157px"><span><b>FullCone</b></span></div>
</div>
<div class="r" style="top:948px;height:32px;line-height:32px;--d:-0.20px">
<div class="c L" style="left:1px;width:59px"><span><b>29</b></span></div>
<div class="c n" style="left:60px;width:254px"><span>香港 <b>12</b></span></div>
<div class="c L" style="left:314px;width:143px"><span><b>Trojan</b></span></div>
<div class="c L" style="left:457px;width:91px;background:#aeebca"><span><b>34ms</b></span></div>
<div class="c L" style="left:548px;width:117px;background:#1fb881"><span><b>428ms</b></span></div>
<div class="c L" style="left:665px;width:111px;background:#ff0a54"><span><b>258.22MB</b></span></div>
<div class="c L" style="left:776px;width:111px;background:#ff0a54"><span><b>299.97MB</b></span></div>
<div class="c" style="left:887px;width:97px">
<i class="b" style="left:1px;width:12px;height:26px;background:#ff0a54"></i>
<i class="b" style="left:13px;width:12px;height:26px;background:#ff0a54"></i>
<i class="b" style="left:25px;width:12px;height:31px;background:#ff0a54"></i>
<i class="b" style="left:37px;width:12px;height:25px;background:#ff0a54"></i>
<i class="b" style="left:49px;width:12px;height:25px;background:#ff0a54"></i>
<i class="b" style="left:61px;width:12px;height:24px;background:#ff0f58"></i>
<i class="b" style="left:73px;width:12px;height:20px;background:#ff487e"></i>
<i class="b" style="left:85px;width:12px;height:31px;background:#ff0a54"></i>
</div>
<div class="c" style="left:984px;width:102px;background:#b8e67e"><span>解锁<b>(HK)</b></span></div>
<div class="c" style="left:1086px;width:99px;background:#b8e67e"><span>解锁<b>(HK)</b></span></div>
<div class="c" style="left:1185px;width:100px;background:#b8e67e"><span>解锁<b>(HK)</b></span></div>
<div class="c L" style="left:1285px;width:157px"><span><b>FullCone</b></span></div>
</div>
<div class="r" style="top:980px;height:31px;line-height:31px;--d:-0.10px">
<div class="c L" style="left:1px;width:59px"><span><b>30</b></span></div>
<div class="c n" style="left:60px;width:254px"><span>日本 <b>10</b></span></div>
<div class="c L" style="left:314px;width:143px"><span><b>Trojan</b></span></div>
<div class="c L" style="left:457px;width:91px;background:#92e0b5"><span><b>78ms</b></span></div>
<div class="c L" style="left:548px;width:117px;background:#0b9e6f"><span><b>618ms</b></span></div>
<div class="c L" style="left:665px;width:111px;background:#ff0a54"><span><b>256.84MB</b></span></div>
<div class="c L" style="left:776px;width:111px;background:#ff0a54"><span><b>296.61MB</b></span></div>
<div class="c" style="left:887px;width:97px">
<i class="b" style="left:1px;width:12px;height:19px;background:#ff4a80"></i>
<i class="b" style="left:13px;width:12px;height:30px;background:#ff0a54"></i>
<i class="b" style="left:25px;width:12px;height:27px;background:#ff0a54"></i>
<i class="b" style="left:37px;width:12px;height:25px;background:#ff0a54"></i>
<i class="b" style="left:49px;width:12px;height:26px;background:#ff0a54"></i>
<i class="b" style="left:61px;width:12px;height:25px;background:#ff0a54"></i>
<i class="b" style="left:73px;width:12px;height:25px;background:#ff0a54"></i>
<i class="b" style="left:85px;width:12px;height:26px;background:#ff0a54"></i>
</div>
<div class="c" style="left:984px;width:102px;background:#b8e67e"><span>解锁<b>(JP)</b></span></div>
<div class="c" style="left:1086px;width:99px;background:#b8e67e"><span>解锁<b>(JP)</b></span></div>
<div class="c" style="left:1185px;width:100px;background:#b8e67e"><span>解锁<b>(JP)</b></span></div>
<div class="c L" style="left:1285px;width:157px"><span><b>FullCone</b></span></div>
</div>
<div class="r" style="top:1011px;height:32px;line-height:32px;--d:0.00px">
<div class="c L" style="left:1px;width:59px"><span><b>31</b></span></div>
<div class="c n" style="left:60px;width:254px"><span><b>SS-</b>台湾 <b>04</b></span></div>
<div class="c L" style="left:314px;width:143px"><span><b>Shadowsocks</b></span></div>
<div class="c L" style="left:457px;width:91px;background:#a2e6c1"><span><b>43ms</b></span></div>
<div class="c L" style="left:548px;width:117px;background:#1aaf7b"><span><b>476ms</b></span></div>
<div class="c L" style="left:665px;width:111px;background:#ff0a54"><span><b>252.07MB</b></span></div>
<div class="c L" style="left:776px;width:111px;background:#ff0a54"><span><b>297.02MB</b></span></div>
<div class="c" style="left:887px;width:97px">
<i class="b" style="left:1px;width:12px;height:21px;background:#ff3c76"></i>
<i class="b" style="left:13px;width:12px;height:31px;background:#ff0a54"></i>
<i class="b" style="left:25px;width:12px;height:27px;background:#ff0a54"></i>
<i class="b" style="left:37px;width:12px;height:20px;background:#ff447c"></i>
<i class="b" style="left:49px;width:12px;height:25px;background:#ff0b54"></i>
<i class="b" style="left:61px;width:12px;height:27px;background:#ff0a54"></i>
<i class="b" style="left:73px;width:12px;height:27px;background:#ff0a54"></i>
<i class="b" style="left:85px;width:12px;height:26px;background:#ff0a54"></i>
</div>
<div class="c" style="left:984px;width:102px;background:#b8e67e"><span>解锁<b>(TW)</b></span></div>
<div class="c" style="left:1086px;width:99px;background:#ffffff"><span>自制</span></div>
<div class="c" style="left:1185px;width:100px;background:#b8e67e"><span>解锁<b>(TW)</b></span></div>
<div class="c L" style="left:1285px;width:157px"><span><b>Unknown</b></span></div>
</div>
<div class="r" style="top:1043px;height:31px;line-height:31px;--d:0.10px">
<div class="c L" style="left:1px;width:59px"><span><b>32</b></span></div>
<div class="c n w1" style="left:60px;width:254px"><span>套餐到期：<b>2025-09-10</b></span></div>
<div class="c L" style="left:314px;width:143px"><span><b>Trojan</b></span></div>
<div class="c L" style="left:457px;width:91px;background:#b5edce"><span><b>29ms</b></span></div>
<div class="c L" style="left:548px;width:117px;background:#7cdcad"><span><b>133ms</b></span></div>
<div class="c L" style="left:665px;width:111px;background:#ff0a54"><span><b>251.41MB</b></span></div>
<div class="c L" style="left:776px;width:111px;background:#ff0a54"><span><b>284.51MB</b></span></div>
<div class="c" style="left:887px;width:97px">
<i class="b" style="left:1px;width:12px;height:19px;background:#ff4b80"></i>
<i class="b" style="left:13px;width:12px;height:30px;background:#ff0a54"></i>
<i class="b" style="left:25px;width:12px;height:25px;background:#ff1058"></i>
<i class="b" style="left:37px;width:12px;height:29px;background:#ff0a54"></i>
<i class="b" style="left:49px;width:12px;height:26px;background:#ff0a54"></i>
<i class="b" style="left:61px;width:12px;height:26px;background:#ff0a54"></i>
<i class="b" style="left:73px;width:12px;height:28px;background:#ff0a54"></i>
<i class="b" style="left:85px;width:12px;height:23px;background:#ff2667"></i>
</div>
<div class="c" style="left:984px;width:102px;background:#b8e67e"><span>解锁<b>(HK)</b></span></div>
<div class="c" style="left:1086px;width:99px;background:#b8e67e"><span>解锁<b>(HK)</b></span></div>
<div class="c" style="left:1185px;width:100px;background:#b8e67e"><span>解锁<b>(HK)</b></span></div>
<div class="c L" style="left:1285px;width:157px"><span><b>FullCone</b></span></div>
</div>
<div class="r" style="top:1074px;height:32px;line-height:32px;--d:0.20px">
<div class="c L" style="left:1px;width:59px"><span><b>33</b></span></div>
<div class="c n" style="left:60px;width:254px"><span>台湾 <b>02</b></span></div>
<div class="c L" style="left:314px;width:143px"><span><b>Trojan</b></span></div>
<div class="c L" style="left:457px;width:91px;background:#91e0b4"><span><b>81ms</b></span></div>
<div class="c L" style="left:548px;width:117px;background:#35cd95"><span><b>322ms</b></span></div>
<div class="c L" style="left:665px;width:111px;background:#ff0a54"><span><b>250.75MB</b></span></div>
<div class="c L" style="left:776px;width:111px;background:#ff0a54"><span><b>280.12MB</b></span></div>
<div class="c" style="left:887px;width:97px">
<i class="b" style="left:1px;width:12px;height:29px;background:#ff0a54"></i>
<i class="b" style="left:13px;width:12px;height:29px;background:#ff0a54"></i>
<i class="b" style="left:25px;width:12px;height:31px;background:#ff0a54"></i>
<i class="b" style="left:37px;width:12px;height:27px;background:#ff0a54"></i>
<i class="b" style="left:49px;width:12px;height:29px;background:#ff0a54"></i>
<i class="b" style="left:61px;width:12px;height:28px;background:#ff0a54"></i>
<i class="b" style="left:73px;width:12px;height:24px;background:#ff2063"></i>
<i class="b" style="left:85px;width:12px;height:17px;background:#ff5686"></i>
</div>
<div class="c" style="left:984px;width:102px;background:#b8e67e"><span>解锁<b>(TW)</b></span></div>
<div class="c" style="left:1086px;width:99px;background:#ffffff"><span>自制</span></div>
<div class="c" style="left:1185px;width:100px;background:#b8e67e"><span>解锁<b>(TW)</b></span></div>
<div class="c L" style="left:1285px;width:157px"><span><b>FullCone</b></span></div>
</div>
<div class="r" style="top:1106px;height:32px;line-height:32px;--d:-0.20px">
<div class="c L" style="left:1px;width:59px"><span><b>34</b></span></div>
<div class="c n" style="left:60px;width:254px"><span>新加坡 <b>04</b></span></div>
<div class="c L" style="left:314px;width:143px"><span><b>Trojan</b></span></div>
<div class="c L" style="left:457px;width:91px;background:#95e2b7"><span><b>64ms</b></span></div>
<div class="c L" style="left:548px;width:117px;background:#20ba83"><span><b>419ms</b></span></div>
<div class="c L" style="left:665px;width:111px;background:#ff0b55"><span><b>249.01MB</b></span></div>
<div class="c L" style="left:776px;width:111px;background:#ff0a54"><span><b>291.74MB</b></span></div>
<div class="c" style="left:887px;width:97px">
<i class="b" style="left:1px;width:12px;height:25px;background:#ff0c56"></i>
<i class="b" style="left:13px;width:12px;height:26px;background:#ff0a54"></i>
<i class="b" style="left:25px;width:12px;height:28px;background:#ff0a54"></i>
<i class="b" style="left:37px;width:12px;height:22px;background:#ff2e6d"></i>
<i class="b" style="left:49px;width:12px;height:26px;background:#ff0a54"></i>
<i class="b" style="left:61px;width:12px;height:26px;background:#ff0a54"></i>
<i class="b" style="left:73px;width:12px;height:20px;background:#ff4a80"></i>
<i class="b" style="left:85px;width:12px;height:31px;background:#ff0a54"></i>
</div>
<div class="c" style="left:984px;width:102px;background:#b8e67e"><span>解锁<b>(SG)</b></span></div>
<div class="c" style="left:1086px;width:99px;background:#b8e67e"><span>解锁<b>(SG)</b></span></div>
<div class="c" style="left:1185px;width:100px;background:#b8e67e"><span>解锁<b>(SG)</b></span></div>
<div class="c L" style="left:1285px;width:157px"><span><b>FullCone</b></span></div>
</div>
<div class="r" style="top:1138px;height:31px;line-height:31px;--d:-0.10px">
<div class="c L" style="left:1px;width:59px"><span><b>35</b></span></div>
<div class="c n" style="left:60px;width:254px"><span>新加坡 <b>05</b></span></div>
<div class="c L" style="left:314px;width:143px"><span><b>Trojan</b></span></div>
<div class="c L" style="left:457px;width:91px;background:#96e2b7"><span><b>60ms</b></span></div>
<div class="c L" style="left:548px;width:117px;background:#03936a"><span><b>1325ms</b></span></div>
<div class="c L" style="left:665px;width:111px;background:#ff0d56"><span><b>247.43MB</b></span></div>
<div class="c L" style="left:776px;width:111px;background:#ff0a54"><span><b>309.46MB</b></span></div>
<div class="c" style="left:887px;width:97px">
<i class="b" style="left:1px;width:12px;height:13px;background:#ff618d"></i>
<i class="b" style="left:13px;width:12px;height:25px;background:#ff0a54"></i>
<i class="b" style="left:25px;width:12px;height:24px;background:#ff0a54"></i>
<i class="b" style="left:37px;width:12px;height:30px;background:#ff0a54"></i>
<i class="b" style="left:49px;width:12px;height:26px;background:#ff0a54"></i>
<i class="b" style="left:61px;width:12px;height:23px;background:#ff0a54"></i>
<i class="b" style="left:73px;width:12px;height:18px;background:#ff487e"></i>
<i class="b" style="left:85px;width:12px;height:28px;background:#ff0a54"></i>
</div>
<div class="c" style="left:984px;width:102px;background:#b8e67e"><span>解锁<b>(SG)</b></span></div>
<div class="c" style="left:1086px;width:99px;background:#b8e67e"><span>解锁<b>(SG)</b></span></div>
<div class="c" style="left:1185px;width:100px;background:#b8e67e"><span>解锁<b>(SG)</b></span></div>
<div class="c L" style="left:1285px;width:157px"><span><b>Unknown</b></span></div>
</div>
<div class="r" style="top:1169px;height:32px;line-height:32px;--d:0.00px">
<div class="c L" style="left:1px;width:59px"><span><b>36</b></span></div>
<div class="c n" style="left:60px;width:254px"><span><b>SS-</b>台湾 <b>01</b></span></div>
<div class="c L" style="left:314px;width:143px"><span><b>Shadowsocks</b></span></div>
<div class="c L" style="left:457px;width:91px;background:#95e2b7"><span><b>64ms</b></span></div>
<div class="c L" style="left:548px;width:117px;background:#22bd85"><span><b>401ms</b></span></div>
<div class="c L" style="left:665px;width:111px;background:#ff0d56"><span><b>247.38MB</b></span></div>
<div class="c L" style="left:776px;width:111px;background:#ff0a54"><span><b>284.96MB</b></span></div>
<div class="c" style="left:887px;width:97px">
<i class="b" style="left:1px;width:12px;height:25px;background:#ff1058"></i>
<i class="b" style="left:13px;width:12px;height:29px;background:#ff0a54"></i>
<i class="b" style="left:25px;width:12px;height:29px;background:#ff0a54"></i>
<i class="b" style="left:37px;width:12px;height:26px;background:#ff0a54"></i>
<i class="b" style="left:49px;width:12px;height:28px;background:#ff0a54"></i>
<i class="b" style="left:61px;width:12px;height:31px;background:#ff0a54"></i>
<i class="b" style="left:73px;width:12px;height:21px;background:#ff437b"></i>
<i class="b" style="left:85px;width:12px;height:20px;background:#ff497f"></i>
</div>
<div class="c" style="left:984px;width:102px;background:#b8e67e"><span>解锁<b>(TW)</b></span></div>
<div class="c" style="left:1086px;width:99px;background:#ffffff"><span>自制</span></div>
<div class="c" style="left:1185px;width:100px;background:#b8e67e"><span>解锁<b>(TW)</b></span></div>
<div class="c L" style="left:1285px;width:157px"><span><b>Unknown</b></span></div>
</div>
<div class="r" style="top:1201px;height:31px;line-height:31px;--d:0.10px">
<div class="c L" style="left:1px;width:59px"><span><b>37</b></span></div>
<div class="c n" style="left:60px;width:254px"><span>新加坡 <b>09</b></span></div>
<div class="c L" style="left:314px;width:143px"><span><b>Trojan</b></span></div>
<div class="c L" style="left:457px;width:91px;background:#97e2b8"><span><b>56ms</b></span></div>
<div class="c L" style="left:548px;width:117px;background:#2cc58d"><span><b>360ms</b></span></div>
<div class="c L" style="left:665px;width:111px;background:#ff0f57"><span><b>245.91MB</b></span></div>
<div class="c L" style="left:776px;width:111px;background:#ff0a54"><span><b>287.54MB</b></span></div>
<div class="c" style="left:887px;width:97px">
<i class="b" style="left:1px;width:12px;height:25px;background:#ff0a54"></i>
<i class="b" style="left:13px;width:12px;height:27px;background:#ff0a54"></i>
<i class="b" style="left:25px;width:12px;height:29px;background:#ff0a54"></i>
<i class="b" style="left:37px;width:12px;height:28px;background:#ff0a54"></i>
<i class="b" style="left:49px;width:12px;height:25px;background:#ff0d56"></i>
<i class="b" style="left:61px;width:12px;height:30px;background:#ff0a54"></i>
<i class="b" style="left:73px;width:12px;height:24px;background:#ff185e"></i>
<i class="b" style="left:85px;width:12px;height:12px;background:#ff6690"></i>
</div>
<div class="c" style="left:984px;width:102px;background:#b8e67e"><span>解锁<b>(SG)</b></span></div>
<div class="c" style="left:1086px;width:99px;background:#b8e67e"><span>解锁<b>(SG)</b></span></div>
<div class="c" style="left:1185px;width:100px;background:#b8e67e"><span>解锁<b>(SG)</b></span></div>
<div class="c L" style="left:1285px;width:157px"><span><b>FullCone</b></span></div>
</div>
<div class="r" style="top:1232px;height:32px;line-height:32px;--d:0.20px">
<div class="c L" style="left:1px;width:59px"><span><b>38</b></span></div>
<div class="c n" style="left:60px;width:254px"><span>香港 <b>03</b></span></div>
<div class="c L" style="left:314px;width:143px"><span><b>Trojan</b></span></div>
<div class="c L" style="left:457px;width:91px;background:#b5edce"><span><b>29ms</b></span></div>
<div class="c L" style="left:548px;width:117px;background:#7adcad"><span><b>135ms</b></span></div>
<div class="c L" style="left:665px;width:111px;background:#ff185d"><span><b>238.89MB</b></span></div>
<div class="c L" style="left:776px;width:111px;background:#ff0a54"><span><b>281.10MB</b></span></div>
<div class="c" style="left:887px;width:97px">
<i class="b" style="left:1px;width:12px;height:18px;background:#ff5486"></i>
<i class="b" style="left:13px;width:12px;height:31px;background:#ff0a54"></i>
<i class="b" style="left:25px;width:12px;height:23px;background:#ff3471"></i>
<i class="b" style="left:37px;width:12px;height:26px;background:#ff0a54"></i>
<i class="b" style="left:49px;width:12px;height:28px;background:#ff0a54"></i>
<i class="b" style="left:61px;width:12px;height:29px;background:#ff0a54"></i>
<i class="b" style="left:73px;width:12px;height:27px;background:#ff0a54"></i>
<i class="b" style="left:85px;width:12px;height:24px;background:#ff296a"></i>
</div>
<div class="c" style="left:984px;width:102px;background:#b8e67e"><span>解锁<b>(HK)</b></span></div>
<div class="c" style="left:1086px;width:99px;background:#b8e67e"><span>解锁<b>(HK)</b></span></div>
<div class="c" style="left:1185px;width:100px;background:#b8e67e"><span>解锁<b>(HK)</b></span></div>
<div class="c L" style="left:1285px;width:157px"><span><b>FullCone</b></span></div>
</div>
<div class="r" style="top:1264px;height:32px;line-height:32px;--d:-0.20px">
<div class="c L" style="left:1px;width:59px"><span><b>39</b></span></div>
<div class="c n w2" style="left:60px;width:254px"><span>最新网址：<b>totorocloud.net</b></span></div>
<div class="c L" style="left:314px;width:143px"><span><b>Trojan</b></span></div>
<div class="c L" style="left:457px;width:91px;background:#b4edce"><span><b>30ms</b></span></div>
<div class="c L" style="left:548px;width:117px;background:#72dbab"><span><b>151ms</b></span></div>
<div class="c L" style="left:665px;width:111px;background:#ff2366"><span><b>229.11MB</b></span></div>
<div class="c L" style="left:776px;width:111px;background:#ff0a54"><span><b>278.91MB</b></span></div>
<div class="c" style="left:887px;width:97px">
<i class="b" style="left:1px;width:12px;height:24px;background:#ff2466"></i>
<i class="b" style="left:13px;width:12px;height:31px;background:#ff0a54"></i>
<i class="b" style="left:25px;width:12px;height:27px;background:#ff0a54"></i>
<i class="b" style="left:37px;width:12px;height:27px;background:#ff0a54"></i>
<i class="b" style="left:49px;width:12px;height:25px;background:#ff1a5f"></i>
<i class="b" style="left:61px;width:12px;height:24px;background:#ff2869"></i>
<i class="b" style="left:73px;width:12px;height:23px;background:#ff2f6e"></i>
<i class="b" style="left:85px;width:12px;height:18px;background:#ff5285"></i>
</div>
<div class="c" style="left:984px;width:102px;background:#b8e67e"><span>解锁<b>(HK)</b></span></div>
<div class="c" style="left:1086px;width:99px;background:#b8e67e"><span>解锁<b>(HK)</b></span></div>
<div class="c" style="left:1185px;width:100px;background:#b8e67e"><span>解锁<b>(HK)</b></span></div>
<div class="c L" style="left:1285px;width:157px"><span><b>FullCone</b></span></div>
</div>
<div class="r" style="top:1296px;height:31px;line-height:31px;--d:-0.10px">
<div class="c L" style="left:1px;width:59px"><span><b>40</b></span></div>
<div class="c n" style="left:60px;width:254px"><span>香港 <b>06</b></span></div>
<div class="c L" style="left:314px;width:143px"><span><b>Trojan</b></span></div>
<div class="c L" style="left:457px;width:91px;background:#9be4bb"><span><b>48ms</b></span></div>
<div class="c L" style="left:548px;width:117px;background:#20ba83"><span><b>417ms</b></span></div>
<div class="c L" style="left:665px;width:111px;background:#ff2566"><span><b>228.14MB</b></span></div>
<div class="c L" style="left:776px;width:111px;background:#ff0a54"><span><b>262.95MB</b></span></div>
<div class="c" style="left:887px;width:97px">
<i class="b" style="left:1px;width:12px;height:25px;background:#ff2366"></i>
<i class="b" style="left:13px;width:12px;height:27px;background:#ff0c55"></i>
<i class="b" style="left:25px;width:12px;height:24px;background:#ff316f"></i>
<i class="b" style="left:37px;width:12px;height:27px;background:#ff0f58"></i>
<i class="b" style="left:49px;width:12px;height:28px;background:#ff0a54"></i>
<i class="b" style="left:61px;width:12px;height:24px;background:#ff2e6c"></i>
<i class="b" style="left:73px;width:12px;height:30px;background:#ff0a54"></i>
<i class="b" style="left:85px;width:12px;height:17px;background:#ff5888"></i>
</div>
<div class="c" style="left:984px;width:102px;background:#b8e67e"><span>解锁<b>(HK)</b></span></div>
<div class="c" style="left:1086px;width:99px;background:#b8e67e"><span>解锁<b>(HK)</b></span></div>
<div class="c" style="left:1185px;width:100px;background:#b8e67e"><span>解锁<b>(HK)</b></span></div>
<div class="c L" style="left:1285px;width:157px"><span><b>FullCone</b></span></div>
</div>
<div class="r" style="top:1327px;height:32px;line-height:32px;--d:0.00px">
<div class="c L" style="left:1px;width:59px"><span><b>41</b></span></div>
<div class="c n" style="left:60px;width:254px"><span>香港 <b>04</b></span></div>
<div class="c L" style="left:314px;width:143px"><span><b>Trojan</b></span></div>
<div class="c L" style="left:457px;width:91px;background:#b5edcf"><span><b>28ms</b></span></div>
<div class="c L" style="left:548px;width:117px;background:#04946a"><span><b>1155ms</b></span></div>
<div class="c L" style="left:665px;width:111px;background:#ff2a6a"><span><b>223.53MB</b></span></div>
<div class="c L" style="left:776px;width:111px;background:#ff0a54"><span><b>274.92MB</b></span></div>
<div class="c" style="left:887px;width:97px">
<i class="b" style="left:1px;width:12px;height:16px;background:#ff5c8a"></i>
<i class="b" style="left:13px;width:12px;height:29px;background:#ff0a54"></i>
<i class="b" style="left:25px;width:12px;height:31px;background:#ff0a54"></i>
<i class="b" style="left:37px;width:12px;height:26px;background:#ff1058"></i>
<i class="b" style="left:49px;width:12px;height:29px;background:#ff0a54"></i>
<i class="b" style="left:61px;width:12px;height:23px;background:#ff3a75"></i>
<i class="b" style="left:73px;width:12px;height:23px;background:#ff3370"></i>
<i class="b" style="left:85px;width:12px;height:17px;background:#ff5888"></i>
</div>
<div class="c" style="left:984px;width:102px;background:#b8e67e"><span>解锁<b>(HK)</b></span></div>
<div class="c" style="left:1086px;width:99px;background:#b8e67e"><span>解锁<b>(HK)</b></span></div>
<div class="c" style="left:1185px;width:100px;background:#b8e67e"><span>解锁<b>(HK)</b></span></div>
<div class="c L" style="left:1285px;width:157px"><span><b>FullCone</b></span></div>
</div>
<div class="r" style="top:1359px;height:31px;line-height:31px;--d:0.10px">
<div class="c L" style="left:1px;width:59px"><span><b>42</b></span></div>
<div class="c n" style="left:60px;width:254px"><span>台湾 <b>03</b></span></div>
<div class="c L" style="left:314px;width:143px"><span><b>Trojan</b></span></div>
<div class="c L" style="left:457px;width:91px;background:#a9e9c6"><span><b>38ms</b></span></div>
<div class="c L" style="left:548px;width:117px;background:#04946a"><span><b>1200ms</b></span></div>
<div class="c L" style="left:665px;width:111px;background:#ff3370"><span><b>216.57MB</b></span></div>
<div class="c L" style="left:776px;width:111px;background:#ff0a54"><span><b>292.36MB</b></span></div>
<div class="c" style="left:887px;width:97px">
<i class="b" style="left:1px;width:12px;height:23px;background:#ff175d"></i>
<i class="b" style="left:13px;width:12px;height:30px;background:#ff0a54"></i>
<i class="b" style="left:25px;width:12px;height:26px;background:#ff0a54"></i>
<i class="b" style="left:37px;width:12px;height:28px;background:#ff0a54"></i>
<i class="b" style="left:49px;width:12px;height:26px;background:#ff0a54"></i>
<i class="b" style="left:61px;width:12px;height:20px;background:#ff477e"></i>
<i class="b" style="left:73px;width:12px;height:10px;background:#ff6d94"></i>
<i class="b" style="left:85px;width:12px;height:10px;background:#ff6f96"></i>
</div>
<div class="c" style="left:984px;width:102px;background:#b8e67e"><span>解锁<b>(TW)</b></span></div>
<div class="c" style="left:1086px;width:99px;background:#ffffff"><span>自制</span></div>
<div class="c" style="left:1185px;width:100px;background:#b8e67e"><span>解锁<b>(TW)</b></span></div>
<div class="c L" style="left:1285px;width:157px"><span><b>RestrictedCone</b></span></div>
</div>
<div class="r" style="top:1390px;height:32px;line-height:32px;--d:0.20px">
<div class="c L" style="left:1px;width:59px"><span><b>43</b></span></div>
<div class="c n" style="left:60px;width:254px"><span>香港 <b>05</b></span></div>
<div class="c L" style="left:314px;width:143px"><span><b>Trojan</b></span></div>
<div class="c L" style="left:457px;width:91px;background:#aaeac7"><span><b>37ms</b></span></div>
<div class="c L" style="left:548px;width:117px;background:#21bb83"><span><b>412ms</b></span></div>
<div class="c L" style="left:665px;width:111px;background:#ff3370"><span><b>216.44MB</b></span></div>
<div class="c L" style="left:776px;width:111px;background:#ff0a54"><span><b>282.77MB</b></span></div>
<div class="c" style="left:887px;width:97px">
<i class="b" style="left:1px;width:12px;height:15px;background:#ff5e8b"></i>
<i class="b" style="left:13px;width:12px;height:25px;background:#ff195e"></i>
<i class="b" style="left:25px;width:12px;height:31px;background:#ff0a54"></i>
<i class="b" style="left:37px;width:12px;height:27px;background:#ff0a54"></i>
<i class="b" style="left:49px;width:12px;height:22px;background:#ff3a75"></i>
<i class="b" style="left:61px;width:12px;height:17px;background:#ff5586"></i>
<i class="b" style="left:73px;width:12px;height:23px;background:#ff2b6b"></i>
<i class="b" style="left:85px;width:12px;height:23px;background:#ff3370"></i>
</div>
<div class="c" style="left:984px;width:102px;background:#b8e67e"><span>解锁<b>(HK)</b></span></div>
<div class="c" style="left:1086px;width:99px;background:#b8e67e"><span>解锁<b>(HK)</b></span></div>
<div class="c" style="left:1185px;width:100px;background:#b8e67e"><span>解锁<b>(HK)</b></span></div>
<div class="c L" style="left:1285px;width:157px"><span><b>Unknown</b></span></div>
</div>
<div class="r" style="top:1422px;height:32px;line-height:32px;--d:-0.20px">
<div class="c L" style="left:1px;width:59px"><span><b>44</b></span></div>
<div class="c n" style="left:60px;width:254px"><span>香港 <b>01</b></span></div>
<div class="c L" style="left:314px;width:143px"><span><b>Trojan</b></span></div>
<div class="c L" style="left:457px;width:91px;background:#98e3b9"><span><b>52ms</b></span></div>
<div class="c L" style="left:548px;width:117px;background:#26c088"><span><b>384ms</b></span></div>
<div class="c L" style="left:665px;width:111px;background:#ff3773"><span><b>213.41MB</b></span></div>
<div class="c L" style="left:776px;width:111px;background:#ff0a54"><span><b>283.54MB</b></span></div>
<div class="c" style="left:887px;width:97px">
<i class="b" style="left:1px;width:12px;height:18px;background:#ff5285"></i>
<i class="b" style="left:13px;width:12px;height:31px;background:#ff0a54"></i>
<i class="b" style="left:25px;width:12px;height:29px;background:#ff0a54"></i>
<i class="b" style="left:37px;width:12px;height:21px;background:#ff477e"></i>
<i class="b" style="left:49px;width:12px;height:23px;background:#ff2b6a"></i>
<i class="b" style="left:61px;width:12px;height:15px;background:#ff5e8b"></i>
<i class="b" style="left:73px;width:12px;height:24px;background:#ff2063"></i>
<i class="b" style="left:85px;width:12px;height:19px;background:#ff4f82"></i>
</div>
<div class="c" style="left:984px;width:102px;background:#b8e67e"><span>解锁<b>(HK)</b></span></div>
<div class="c" style="left:1086px;width:99px;background:#b8e67e"><span>解锁<b>(HK)</b></span></div>
<div class="c" style="left:1185px;width:100px;background:#b8e67e"><span>解锁<b>(HK)</b></span></div>
<div class="c L" style="left:1285px;width:157px"><span><b>FullCone</b></span></div>
</div>
<div class="r" style="top:1454px;height:31px;line-height:31px;--d:-0.10px">
<div class="c L" style="left:1px;width:59px"><span><b>45</b></span></div>
<div class="c n" style="left:60px;width:254px"><span>台湾 <b>05</b></span></div>
<div class="c L" style="left:314px;width:143px"><span><b>Trojan</b></span></div>
<div class="c L" style="left:457px;width:91px;background:#94e1b6"><span><b>67ms</b></span></div>
<div class="c L" style="left:548px;width:117px;background:#15a876"><span><b>522ms</b></span></div>
<div class="c L" style="left:665px;width:111px;background:#ff447c"><span><b>202.49MB</b></span></div>
<div class="c L" style="left:776px;width:111px;background:#ff0a54"><span><b>276.60MB</b></span></div>
<div class="c" style="left:887px;width:97px">
<i class="b" style="left:1px;width:12px;height:28px;background:#ff0a54"></i>
<i class="b" style="left:13px;width:12px;height:30px;background:#ff0a54"></i>
<i class="b" style="left:25px;width:12px;height:28px;background:#ff0a54"></i>
<i class="b" style="left:37px;width:12px;height:28px;background:#ff0a54"></i>
<i class="b" style="left:49px;width:12px;height:20px;background:#ff487f"></i>
<i class="b" style="left:61px;width:12px;height:7px;background:#ff7e9d"></i>
<i class="b" style="left:73px;width:12px;height:13px;background:#ff6791"></i>
<i class="b" style="left:85px;width:12px;height:17px;background:#ff5787"></i>
</div>
<div class="c" style="left:984px;width:102px;background:#b8e67e"><span>解锁<b>(TW)</b></span></div>
<div class="c" style="left:1086px;width:99px;background:#ffffff"><span>自制</span></div>
<div class="c" style="left:1185px;width:100px;background:#b8e67e"><span>解锁<b>(TW)</b></span></div>
<div class="c L" style="left:1285px;width:157px"><span><b>RestrictedCone</b></span></div>
</div>
<div class="r" style="top:1485px;height:32px;line-height:32px;--d:0.00px">
<div class="c L" style="left:1px;width:59px"><span><b>46</b></span></div>
<div class="c n" style="left:60px;width:254px"><span>香港 <b>15</b></span></div>
<div class="c L" style="left:314px;width:143px"><span><b>Trojan</b></span></div>
<div class="c L" style="left:457px;width:91px;background:#a9e9c6"><span><b>38ms</b></span></div>
<div class="c L" style="left:548px;width:117px;background:#21bc84"><span><b>407ms</b></span></div>
<div class="c L" style="left:665px;width:111px;background:#ff497f"><span><b>194.98MB</b></span></div>
<div class="c L" style="left:776px;width:111px;background:#ff0a54"><span><b>283.27MB</b></span></div>
<div class="c" style="left:887px;width:97px">
<i class="b" style="left:1px;width:12px;height:22px;background:#ff3672"></i>
<i class="b" style="left:13px;width:12px;height:31px;background:#ff0a54"></i>
<i class="b" style="left:25px;width:12px;height:29px;background:#ff0a54"></i>
<i class="b" style="left:37px;width:12px;height:29px;background:#ff0a54"></i>
<i class="b" style="left:49px;width:12px;height:24px;background:#ff2466"></i>
<i class="b" style="left:61px;width:12px;height:21px;background:#ff417a"></i>
<i class="b" style="left:73px;width:12px;height:10px;background:#ff7398"></i>
</div>
<div class="c" style="left:984px;width:102px;background:#b8e67e"><span>解锁<b>(HK)</b></span></div>
<div class="c" style="left:1086px;width:99px;background:#b8e67e"><span>解锁<b>(HK)</b></span></div>
<div class="c" style="left:1185px;width:100px;background:#b8e67e"><span>解锁<b>(HK)</b></span></div>
<div class="c L" style="left:1285px;width:157px"><span><b>FullCone</b></span></div>
</div>
<div class="r" style="top:1517px;height:31px;line-height:31px;--d:0.10px">
<div class="c L" style="left:1px;width:59px"><span><b>47</b></span></div>
<div class="c n" style="left:60px;width:254px"><span><b>SS-</b>台湾 <b>02</b></span></div>
<div class="c L" style="left:314px;width:143px"><span><b>Shadowsocks</b></span></div>
<div class="c L" style="left:457px;width:91px;background:#95e2b7"><span><b>65ms</b></span></div>
<div class="c L" style="left:548px;width:117px;background:#68daa9"><span><b>169ms</b></span></div>
<div class="c L" style="left:665px;width:111px;background:#ff4b80"><span><b>191.23MB</b></span></div>
<div class="c L" style="left:776px;width:111px;background:#ff0a54"><span><b>271.27MB</b></span></div>
<div class="c" style="left:887px;width:97px">
<i class="b" style="left:1px;width:12px;height:28px;background:#ff0a54"></i>
<i class="b" style="left:13px;width:12px;height:28px;background:#ff0a54"></i>
<i class="b" style="left:25px;width:12px;height:26px;background:#ff0a54"></i>
<i class="b" style="left:37px;width:12px;height:30px;background:#ff0a54"></i>
<i class="b" style="left:49px;width:12px;height:24px;background:#ff2869"></i>
<i class="b" style="left:61px;width:12px;height:24px;background:#ff2264"></i>
<i class="b" style="left:73px;width:12px;height:5px;background:#ff89a3"></i>
</div>
<div class="c" style="left:984px;width:102px;background:#b8e67e"><span>解锁<b>(TW)</b></span></div>
<div class="c" style="left:1086px;width:99px;background:#ffffff"><span>自制</span></div>
<div class="c" style="left:1185px;width:100px;background:#b8e67e"><span>解锁<b>(TW)</b></span></div>
<div class="c L" style="left:1285px;width:157px"><span><b>Unknown</b></span></div>
</div>
<div class="r" style="top:1548px;height:32px;line-height:32px;--d:0.20px">
<div class="c L" style="left:1px;width:59px"><span><b>48</b></span></div>
<div class="c n" style="left:60px;width:254px"><span>香港 <b>02</b></span></div>
<div class="c L" style="left:314px;width:143px"><span><b>Trojan</b></span></div>
<div class="c L" style="left:457px;width:91px;background:#9ee5bd"><span><b>46ms</b></span></div>
<div class="c L" style="left:548px;width:117px;background:#1bb07c"><span><b>472ms</b></span></div>
<div class="c L" style="left:665px;width:111px;background:#ff4d81"><span><b>186.23MB</b></span></div>
<div class="c L" style="left:776px;width:111px;background:#ff0a54"><span><b>292.30MB</b></span></div>
<div class="c" style="left:887px;width:97px">
<i class="b" style="left:1px;width:12px;height:18px;background:#ff5284"></i>
<i class="b" style="left:13px;width:12px;height:31px;background:#ff0a54"></i>
<i class="b" style="left:25px;width:12px;height:29px;background:#ff0a54"></i>
<i class="b" style="left:37px;width:12px;height:12px;background:#ff6891"></i>
<i class="b" style="left:49px;width:12px;height:19px;background:#ff4e82"></i>
<i class="b" style="left:61px;width:12px;height:21px;background:#ff4079"></i>
<i class="b" style="left:73px;width:12px;height:14px;background:#ff618d"></i>
<i class="b" style="left:85px;width:12px;height:12px;background:#ff6992"></i>
</div>
<div class="c" style="left:984px;width:102px;background:#b8e67e"><span>解锁<b>(HK)</b></span></div>
<div class="c" style="left:1086px;width:99px;background:#b8e67e"><span>解锁<b>(HK)</b></span></div>
<div class="c" style="left:1185px;width:100px;background:#b8e67e"><span>解锁<b>(HK)</b></span></div>
<div class="c L" style="left:1285px;width:157px"><span><b>FullCone</b></span></div>
</div>
<div class="r" style="top:1580px;height:32px;line-height:32px;--d:-0.20px">
<div class="c L" style="left:1px;width:59px"><span><b>49</b></span></div>
<div class="c n" style="left:60px;width:254px"><span>美国 <b>04</b></span></div>
<div class="c L" style="left:314px;width:143px"><span><b>Trojan</b></span></div>
<div class="c L" style="left:457px;width:91px;background:#52d7a3"><span><b>220ms</b></span></div>
<div class="c L" style="left:548px;width:117px;background:#03926a"><span><b>1472ms</b></span></div>
<div class="c L" style="left:665px;width:111px;background:#ff5687"><span><b>163.96MB</b></span></div>
<div class="c L" style="left:776px;width:111px;background:#ff2e6d"><span><b>220.11MB</b></span></div>
<div class="c" style="left:887px;width:97px">
<i class="b" style="left:1px;width:12px;height:10px;background:#ff7a9b"></i>
<i class="b" style="left:13px;width:12px;height:26px;background:#ff4a80"></i>
<i class="b" style="left:25px;width:12px;height:31px;background:#ff2164"></i>
<i class="b" style="left:37px;width:12px;height:21px;background:#ff5888"></i>
<i class="b" style="left:49px;width:12px;height:23px;background:#ff5385"></i>
<i class="b" style="left:61px;width:12px;height:22px;background:#ff5787"></i>
<i class="b" style="left:73px;width:12px;height:26px;background:#ff487f"></i>
<i class="b" style="left:85px;width:12px;height:21px;background:#ff5a89"></i>
</div>
<div class="c" style="left:984px;width:102px;background:#ee6b73"><span>失败</span></div>
<div class="c" style="left:1086px;width:99px;background:#b8e67e"><span>解锁<b>(US)</b></span></div>
<div class="c" style="left:1185px;width:100px;background:#b8e67e"><span>解锁<b>(US)</b></span></div>
<div class="c L" style="left:1285px;width:157px"><span><b>FullCone</b></span></div>
</div>
<div class="r" style="top:1612px;height:31px;line-height:31px;--d:-0.10px">
<div class="c L" style="left:1px;width:59px"><span><b>50</b></span></div>
<div class="c n" style="left:60px;width:254px"><span>剩余流量：<b>400 GB</b></span></div>
<div class="c L" style="left:314px;width:143px"><span><b>Trojan</b></span></div>
<div class="c L" style="left:457px;width:91px;background:#90e0b3"><span><b>85ms</b></span></div>
<div class="c L" style="left:548px;width:117px;background:#2ec78f"><span><b>352ms</b></span></div>
<div class="c L" style="left:665px;width:111px;background:#ff5787"><span><b>162.24MB</b></span></div>
<div class="c L" style="left:776px;width:111px;background:#ff427a"><span><b>204.18MB</b></span></div>
<div class="c" style="left:887px;width:97px">
<i class="b" style="left:1px;width:12px;height:14px;background:#ff7096"></i>
<i class="b" style="left:13px;width:12px;height:17px;background:#ff6791"></i>
<i class="b" style="left:25px;width:12px;height:24px;background:#ff5485"></i>
<i class="b" style="left:37px;width:12px;height:26px;background:#ff4e82"></i>
<i class="b" style="left:49px;width:12px;height:29px;background:#ff3b76"></i>
<i class="b" style="left:61px;width:12px;height:25px;background:#ff4f83"></i>
<i class="b" style="left:73px;width:12px;height:27px;background:#ff497f"></i>
<i class="b" style="left:85px;width:12px;height:22px;background:#ff5988"></i>
</div>
<div class="c" style="left:984px;width:102px;background:#b8e67e"><span>解锁<b>(HK)</b></span></div>
<div class="c" style="left:1086px;width:99px;background:#b8e67e"><span>解锁<b>(HK)</b></span></div>
<div class="c" style="left:1185px;width:100px;background:#b8e67e"><span>解锁<b>(HK)</b></span></div>
<div class="c L" style="left:1285px;width:157px"><span><b>FullCone</b></span></div>
</div>
<div class="r" style="top:1643px;height:32px;line-height:32px;--d:0.00px">
<div class="c L" style="left:1px;width:59px"><span><b>51</b></span></div>
<div class="c n" style="left:60px;width:254px"><span>美国 <b>07</b></span></div>
<div class="c L" style="left:314px;width:143px"><span><b>Trojan</b></span></div>
<div class="c L" style="left:457px;width:91px;background:#50d6a2"><span><b>228ms</b></span></div>
<div class="c L" style="left:548px;width:117px;background:#04956a"><span><b>987ms</b></span></div>
<div class="c L" style="left:665px;width:111px;background:#ff5d8a"><span><b>147.98MB</b></span></div>
<div class="c L" style="left:776px;width:111px;background:#ff4079"><span><b>205.45MB</b></span></div>
<div class="c" style="left:887px;width:97px">
<i class="b" style="left:1px;width:12px;height:8px;background:#ff829f"></i>
<i class="b" style="left:13px;width:12px;height:30px;background:#ff3974"></i>
<i class="b" style="left:25px;width:12px;height:24px;background:#ff5385"></i>
<i class="b" style="left:37px;width:12px;height:17px;background:#ff6992"></i>
<i class="b" style="left:49px;width:12px;height:27px;background:#ff4c81"></i>
<i class="b" style="left:61px;width:12px;height:23px;background:#ff5787"></i>
<i class="b" style="left:73px;width:12px;height:25px;background:#ff5184"></i>
<i class="b" style="left:85px;width:12px;height:17px;background:#ff6992"></i>
</div>
<div class="c" style="left:984px;width:102px;background:#ee6b73"><span>失败</span></div>
<div class="c" style="left:1086px;width:99px;background:#b8e67e"><span>解锁<b>(US)</b></span></div>
<div class="c" style="left:1185px;width:100px;background:#b8e67e"><span>解锁<b>(US)</b></span></div>
<div class="c L" style="left:1285px;width:157px"><span><b>RestrictedCone</b></span></div>
</div>
<div class="r" style="top:1675px;height:31px;line-height:31px;--d:0.10px">
<div class="c L" style="left:1px;width:59px"><span><b>52</b></span></div>
<div class="c n" style="left:60px;width:254px"><span>美国 <b>05</b></span></div>
<div class="c L" style="left:314px;width:143px"><span><b>Trojan</b></span></div>
<div class="c L" style="left:457px;width:91px;background:#55d7a4"><span><b>211ms</b></span></div>
<div class="c L" style="left:548px;width:117px;background:#03926a"><span><b>1410ms</b></span></div>
<div class="c L" style="left:665px;width:111px;background:#ff628e"><span><b>135.35MB</b></span></div>
<div class="c L" style="left:776px;width:111px;background:#ff1b60"><span><b>235.91MB</b></span></div>
<div class="c" style="left:887px;width:97px">
<i class="b" style="left:1px;width:12px;height:9px;background:#ff7c9c"></i>
<i class="b" style="left:13px;width:12px;height:29px;background:#ff165c"></i>
<i class="b" style="left:25px;width:12px;height:22px;background:#ff4e82"></i>
<i class="b" style="left:37px;width:12px;height:17px;background:#ff618d"></i>
<i class="b" style="left:49px;width:12px;height:22px;background:#ff4e82"></i>
<i class="b" style="left:61px;width:12px;height:16px;background:#ff648f"></i>
<i class="b" style="left:73px;width:12px;height:12px;background:#ff7197"></i>
<i class="b" style="left:85px;width:12px;height:8px;background:#ff7e9d"></i>
</div>
<div class="c" style="left:984px;width:102px;background:#ee6b73"><span>失败</span></div>
<div class="c" style="left:1086px;width:99px;background:#b8e67e"><span>解锁<b>(US)</b></span></div>
<div class="c" style="left:1185px;width:100px;background:#b8e67e"><span>解锁<b>(US)</b></span></div>
<div class="c L" style="left:1285px;width:157px"><span><b>FullCone</b></span></div>
</div>
<div class="r" style="top:1706px;height:32px;line-height:32px;--d:0.20px">
<div class="c L" style="left:1px;width:59px"><span><b>53</b></span></div>
<div class="c n" style="left:60px;width:254px"><span>美国 <b>06</b></span></div>
<div class="c L" style="left:314px;width:143px"><span><b>Trojan</b></span></div>
<div class="c L" style="left:457px;width:91px;background:#55d7a4"><span><b>211ms</b></span></div>
<div class="c L" style="left:548px;width:117px;background:#04966a"><span><b>817ms</b></span></div>
<div class="c L" style="left:665px;width:111px;background:#ff628e"><span><b>133.75MB</b></span></div>
<div class="c L" style="left:776px;width:111px;background:#ff497f"><span><b>194.25MB</b></span></div>
<div class="c" style="left:887px;width:97px">
<i class="b" style="left:1px;width:12px;height:6px;background:#fc9fb2"></i>
<i class="b" style="left:13px;width:12px;height:29px;background:#ff4a7f"></i>
<i class="b" style="left:25px;width:12px;height:30px;background:#ff477e"></i>
<i class="b" style="left:37px;width:12px;height:16px;background:#ff6f96"></i>
<i class="b" style="left:49px;width:12px;height:24px;background:#ff5787"></i>
<i class="b" style="left:61px;width:12px;height:20px;background:#ff628e"></i>
<i class="b" style="left:73px;width:12px;height:22px;background:#ff5f8c"></i>
<i class="b" style="left:85px;width:12px;height:17px;background:#ff6c94"></i>
</div>
<div class="c" style="left:984px;width:102px;background:#ee6b73"><span>失败</span></div>
<div class="c" style="left:1086px;width:99px;background:#b8e67e"><span>解锁<b>(US)</b></span></div>
<div class="c" style="left:1185px;width:100px;background:#b8e67e"><span>解锁<b>(US)</b></span></div>
<div class="c L" style="left:1285px;width:157px"><span><b>FullCone</b></span></div>
</div>
<div class="r" style="top:1738px;height:32px;line-height:32px;--d:-0.20px">
<div class="c L" style="left:1px;width:59px"><span><b>54</b></span></div>
<div class="c n" style="left:60px;width:254px"><span>美国 <b>08</b></span></div>
<div class="c L" style="left:314px;width:143px"><span><b>Trojan</b></span></div>
<div class="c L" style="left:457px;width:91px;background:#53d7a3"><span><b>217ms</b></span></div>
<div class="c L" style="left:548px;width:117px;background:#04946a"><span><b>1082ms</b></span></div>
<div class="c L" style="left:665px;width:111px;background:#ff6690"><span><b>125.04MB</b></span></div>
<div class="c L" style="left:776px;width:111px;background:#ff195f"><span><b>237.30MB</b></span></div>
<div class="c" style="left:887px;width:97px">
<i class="b" style="left:1px;width:12px;height:10px;background:#ff7a9b"></i>
<i class="b" style="left:13px;width:12px;height:30px;background:#ff145b"></i>
<i class="b" style="left:25px;width:12px;height:17px;background:#ff618d"></i>
<i class="b" style="left:37px;width:12px;height:10px;background:#ff7a9b"></i>
<i class="b" style="left:49px;width:12px;height:17px;background:#ff608d"></i>
<i class="b" style="left:61px;width:12px;height:14px;background:#ff6a92"></i>
<i class="b" style="left:73px;width:12px;height:13px;background:#ff6e95"></i>
<i class="b" style="left:85px;width:12px;height:16px;background:#ff638e"></i>
</div>
<div class="c" style="left:984px;width:102px;background:#ee6b73"><span>失败</span></div>
<div class="c" style="left:1086px;width:99px;background:#b8e67e"><span>解锁<b>(US)</b></span></div>
<div class="c" style="left:1185px;width:100px;background:#b8e67e"><span>解锁<b>(US)</b></span></div>
<div class="c L" style="left:1285px;width:157px"><span><b>FullCone</b></span></div>
</div>
<div class="r" style="top:1770px;height:31px;line-height:31px;--d:-0.10px">
<div class="c L" style="left:1px;width:59px"><span><b>55</b></span></div>
<div class="c n" style="left:60px;width:254px"><span>香港 <b>18</b></span></div>
<div class="c L" style="left:314px;width:143px"><span><b>Trojan</b></span></div>
<div class="c L" style="left:457px;width:91px;background:#a7e8c5"><span><b>39ms</b></span></div>
<div class="c L" style="left:548px;width:117px;background:#5fd9a7"><span><b>186ms</b></span></div>
<div class="c L" style="left:665px;width:111px;background:#ff6790"><span><b>123.27MB</b></span></div>
<div class="c L" style="left:776px;width:111px;background:#ff0a54"><span><b>293.96MB</b></span></div>
<div class="c" style="left:887px;width:97px">
<i class="b" style="left:1px;width:12px;height:17px;background:#ff5083"></i>
<i class="b" style="left:13px;width:12px;height:29px;background:#ff0a54"></i>
<i class="b" style="left:25px;width:12px;height:14px;background:#ff5d8a"></i>
<i class="b" style="left:37px;width:12px;height:10px;background:#ff7196"></i>
<i class="b" style="left:49px;width:12px;height:9px;background:#ff7498"></i>
<i class="b" style="left:61px;width:12px;height:8px;background:#ff789a"></i>
<i class="b" style="left:73px;width:12px;height:5px;background:#ff83a0"></i>
<i class="b" style="left:85px;width:12px;height:5px;background:#ff83a0"></i>
</div>
<div class="c" style="left:984px;width:102px;background:#b8e67e"><span>解锁<b>(HK)</b></span></div>
<div class="c" style="left:1086px;width:99px;background:#b8e67e"><span>解锁<b>(HK)</b></span></div>
<div class="c" style="left:1185px;width:100px;background:#b8e67e"><span>解锁<b>(HK)</b></span></div>
<div class="c L" style="left:1285px;width:157px"><span><b>FullCone</b></span></div>
</div>
<div class="r" style="top:1801px;height:32px;line-height:32px;--d:0.00px">
<div class="c L" style="left:1px;width:59px"><span><b>56</b></span></div>
<div class="c n" style="left:60px;width:254px"><span>美国 <b>09</b></span></div>
<div class="c L" style="left:314px;width:143px"><span><b>Trojan</b></span></div>
<div class="c L" style="left:457px;width:91px;background:#54d7a3"><span><b>214ms</b></span></div>
<div class="c L" style="left:548px;width:117px;background:#04946a"><span><b>1136ms</b></span></div>
<div class="c L" style="left:665px;width:111px;background:#ff6791"><span><b>122.09MB</b></span></div>
<div class="c L" style="left:776px;width:111px;background:#ff2f6e"><span><b>219.57MB</b></span></div>
<div class="c" style="left:887px;width:97px">
<i class="b" style="left:1px;width:12px;height:11px;background:#ff799b"></i>
<i class="b" style="left:13px;width:12px;height:12px;background:#ff7398"></i>
<i class="b" style="left:25px;width:12px;height:5px;background:#fc9eb1"></i>
<i class="b" style="left:37px;width:12px;height:11px;background:#ff799b"></i>
<i class="b" style="left:49px;width:12px;height:27px;background:#ff487e"></i>
<i class="b" style="left:61px;width:12px;height:30px;background:#ff2768"></i>
<i class="b" style="left:73px;width:12px;height:20px;background:#ff5e8b"></i>
<i class="b" style="left:85px;width:12px;height:27px;background:#ff487e"></i>
</div>
<div class="c" style="left:984px;width:102px;background:#ee6b73"><span>失败</span></div>
<div class="c" style="left:1086px;width:99px;background:#8c8c8c"><span><b>N/A</b></span></div>
<div class="c" style="left:1185px;width:100px;background:#b8e67e"><span>解锁<b>(US)</b></span></div>
<div class="c L" style="left:1285px;width:157px"><span><b>FullCone</b></span></div>
</div>
<div class="r" style="top:1833px;height:31px;line-height:31px;--d:0.10px">
<div class="c L" style="left:1px;width:59px"><span><b>57</b></span></div>
<div class="c n" style="left:60px;width:254px"><span>美国 <b>10</b></span></div>
<div class="c L" style="left:314px;width:143px"><span><b>Trojan</b></span></div>
<div class="c L" style="left:457px;width:91px;background:#54d7a4"><span><b>212ms</b></span></div>
<div class="c L" style="left:548px;width:117px;background:#04966a"><span><b>839ms</b></span></div>
<div class="c L" style="left:665px;width:111px;background:#ff6992"><span><b>116.73MB</b></span></div>
<div class="c L" style="left:776px;width:111px;background:#ff2164"><span><b>231.42MB</b></span></div>
<div class="c" style="left:887px;width:97px">
<i class="b" style="left:1px;width:12px;height:8px;background:#ff809f"></i>
<i class="b" style="left:13px;width:12px;height:29px;background:#ff185e"></i>
<i class="b" style="left:25px;width:12px;height:16px;background:#ff648f"></i>
<i class="b" style="left:37px;width:12px;height:17px;background:#ff618d"></i>
<i class="b" style="left:49px;width:12px;height:13px;background:#ff6f96"></i>
<i class="b" style="left:61px;width:12px;height:13px;background:#ff6f96"></i>
<i class="b" style="left:73px;width:12px;height:6px;background:#ff88a3"></i>
<i class="b" style="left:85px;width:12px;height:15px;background:#ff6690"></i>
</div>
<div class="c" style="left:984px;width:102px;background:#ee6b73"><span>失败</span></div>
<div class="c" style="left:1086px;width:99px;background:#b8e67e"><span>解锁<b>(US)</b></span></div>
<div class="c" style="left:1185px;width:100px;background:#b8e67e"><span>解锁<b>(US)</b></span></div>
<div class="c L" style="left:1285px;width:157px"><span><b>FullCone</b></span></div>
</div>
<div class="r" style="top:1864px;height:32px;line-height:32px;--d:0.20px">
<div class="c L" style="left:1px;width:59px"><span><b>58</b></span></div>
<div class="c n" style="left:60px;width:254px"><span>香港 <b>17</b></span></div>
<div class="c L" style="left:314px;width:143px"><span><b>Trojan</b></span></div>
<div class="c L" style="left:457px;width:91px;background:#b1eccc"><span><b>32ms</b></span></div>
<div class="c L" style="left:548px;width:117px;background:#6bdaa9"><span><b>164ms</b></span></div>
<div class="c L" style="left:665px;width:111px;background:#ff6c94"><span><b>109.28MB</b></span></div>
<div class="c L" style="left:776px;width:111px;background:#ff155b"><span><b>241.08MB</b></span></div>
<div class="c" style="left:887px;width:97px">
<i class="b" style="left:1px;width:12px;height:9px;background:#ff7c9c"></i>
<i class="b" style="left:13px;width:12px;height:30px;background:#ff0c56"></i>
<i class="b" style="left:25px;width:12px;height:29px;background:#ff165c"></i>
<i class="b" style="left:37px;width:12px;height:19px;background:#ff5a89"></i>
<i class="b" style="left:49px;width:12px;height:9px;background:#ff7b9c"></i>
<i class="b" style="left:61px;width:12px;height:6px;background:#fe8fa8"></i>
<i class="b" style="left:73px;width:12px;height:4px;background:#fab2bf"></i>
<i class="b" style="left:85px;width:12px;height:3px;background:#fab8c3"></i>
</div>
<div class="c" style="left:984px;width:102px;background:#b8e67e"><span>解锁<b>(HK)</b></span></div>
<div class="c" style="left:1086px;width:99px;background:#b8e67e"><span>解锁<b>(HK)</b></span></div>
<div class="c" style="left:1185px;width:100px;background:#b8e67e"><span>解锁<b>(HK)</b></span></div>
<div class="c L" style="left:1285px;width:157px"><span><b>FullCone</b></span></div>
</div>
<div class="r" style="top:1896px;height:32px;line-height:32px;--d:-0.20px">
<div class="c L" style="left:1px;width:59px"><span><b>59</b></span></div>
<div class="c n" style="left:60px;width:254px"><span>香港 <b>16</b></span></div>
<div class="c L" style="left:314px;width:143px"><span><b>Trojan</b></span></div>
<div class="c L" style="left:457px;width:91px;background:#b7eed0"><span><b>26ms</b></span></div>
<div class="c L" style="left:548px;width:117px;background:#83ddaf"><span><b>118ms</b></span></div>
<div class="c L" style="left:665px;width:111px;background:#ff6f96"><span><b>101.66MB</b></span></div>
<div class="c L" style="left:776px;width:111px;background:#ff0e57"><span><b>246.54MB</b></span></div>
<div class="c" style="left:887px;width:97px">
<i class="b" style="left:1px;width:12px;height:29px;background:#ff155c"></i>
<i class="b" style="left:13px;width:12px;height:31px;background:#ff0a54"></i>
<i class="b" style="left:25px;width:12px;height:11px;background:#ff7297"></i>
<i class="b" style="left:37px;width:12px;height:9px;background:#ff799b"></i>
<i class="b" style="left:49px;width:12px;height:7px;background:#ff829f"></i>
<i class="b" style="left:61px;width:12px;height:5px;background:#fe93aa"></i>
<i class="b" style="left:73px;width:12px;height:5px;background:#fc9eb2"></i>
<i class="b" style="left:85px;width:12px;height:5px;background:#fc9eb2"></i>
</div>
<div class="c" style="left:984px;width:102px;background:#b8e67e"><span>解锁<b>(HK)</b></span></div>
<div class="c" style="left:1086px;width:99px;background:#b8e67e"><span>解锁<b>(HK)</b></span></div>
<div class="c" style="left:1185px;width:100px;background:#b8e67e"><span>解锁<b>(HK)</b></span></div>
<div class="c L" style="left:1285px;width:157px"><span><b>FullCone</b></span></div>
</div>
<div class="r" style="top:1928px;height:31px;line-height:31px;--d:-0.10px">
<div class="c L" style="left:1px;width:59px"><span><b>60</b></span></div>
<div class="c n" style="left:60px;width:254px"><span>台湾 <b>01</b></span></div>
<div class="c L" style="left:314px;width:143px"><span><b>Trojan</b></span></div>
<div class="c L" style="left:457px;width:91px;background:#96e2b7"><span><b>60ms</b></span></div>
<div class="c L" style="left:548px;width:117px;background:#1cb27d"><span><b>461ms</b></span></div>
<div class="c L" style="left:665px;width:111px;background:#ff7096"><span><b>100.51MB</b></span></div>
<div class="c L" style="left:776px;width:111px;background:#ff0a54"><span><b>271.92MB</b></span></div>
<div class="c" style="left:887px;width:97px">
<i class="b" style="left:1px;width:12px;height:29px;background:#ff0a54"></i>
<i class="b" style="left:13px;width:12px;height:30px;background:#ff0a54"></i>
<i class="b" style="left:25px;width:12px;height:8px;background:#ff789a"></i>
<i class="b" style="left:37px;width:12px;height:3px;background:#f9bcc6"></i>
<i class="b" style="left:61px;width:12px;height:3px;background:#f9bcc6"></i>
<i class="b" style="left:73px;width:12px;height:9px;background:#ff779a"></i>
<i class="b" style="left:85px;width:12px;height:7px;background:#ff809e"></i>
</div>
<div class="c" style="left:984px;width:102px;background:#b8e67e"><span>解锁<b>(TW)</b></span></div>
<div class="c" style="left:1086px;width:99px;background:#ffffff"><span>自制</span></div>
<div class="c" style="left:1185px;width:100px;background:#b8e67e"><span>解锁<b>(TW)</b></span></div>
<div class="c L" style="left:1285px;width:157px"><span><b>FullCone</b></span></div>
</div>
<div class="r" style="top:1959px;height:32px;line-height:32px;--d:0.00px">
<div class="c L" style="left:1px;width:59px"><span><b>61</b></span></div>
<div class="c n" style="left:60px;width:254px"><span>美国 <b>03</b></span></div>
<div class="c L" style="left:314px;width:143px"><span><b>Trojan</b></span></div>
<div class="c L" style="left:457px;width:91px;background:#52d7a3"><span><b>221ms</b></span></div>
<div class="c L" style="left:548px;width:117px;background:#04966a"><span><b>876ms</b></span></div>
<div class="c L" style="left:665px;width:111px;background:#ff7196"><span><b>98.20MB</b></span></div>
<div class="c L" style="left:776px;width:111px;background:#ff5284"><span><b>174.30MB</b></span></div>
<div class="c" style="left:887px;width:97px">
<i class="b" style="left:1px;width:12px;height:11px;background:#ff7e9e"></i>
<i class="b" style="left:13px;width:12px;height:17px;background:#ff7096"></i>
<i class="b" style="left:25px;width:12px;height:9px;background:#ff84a1"></i>
<i class="b" style="left:37px;width:12px;height:15px;background:#ff7699"></i>
<i class="b" style="left:49px;width:12px;height:13px;background:#ff799b"></i>
<i class="b" style="left:61px;width:12px;height:25px;background:#ff5d8a"></i>
<i class="b" style="left:73px;width:12px;height:16px;background:#ff7297"></i>
<i class="b" style="left:85px;width:12px;height:31px;background:#ff4e82"></i>
</div>
<div class="c" style="left:984px;width:102px;background:#ee6b73"><span>失败</span></div>
<div class="c" style="left:1086px;width:99px;background:#b8e67e"><span>解锁<b>(US)</b></span></div>
<div class="c" style="left:1185px;width:100px;background:#b8e67e"><span>解锁<b>(US)</b></span></div>
<div class="c L" style="left:1285px;width:157px"><span><b>FullCone</b></span></div>
</div>
<div class="r" style="top:1991px;height:31px;line-height:31px;--d:0.10px">
<div class="c L" style="left:1px;width:59px"><span><b>62</b></span></div>
<div class="c n" style="left:60px;width:254px"><span>台湾 <b>07</b></span></div>
<div class="c L" style="left:314px;width:143px"><span><b>Trojan</b></span></div>
<div class="c L" style="left:457px;width:91px;background:#98e3b9"><span><b>51ms</b></span></div>
<div class="c L" style="left:548px;width:117px;background:#4ed6a1"><span><b>235ms</b></span></div>
<div class="c L" style="left:665px;width:111px;background:#ff7398"><span><b>92.32MB</b></span></div>
<div class="c L" style="left:776px;width:111px;background:#ff5e8b"><span><b>145.63MB</b></span></div>
<div class="c" style="left:887px;width:97px">
<i class="b" style="left:1px;width:12px;height:30px;background:#ff5b89"></i>
<i class="b" style="left:13px;width:12px;height:26px;background:#ff628e"></i>
<i class="b" style="left:25px;width:12px;height:25px;background:#ff6590"></i>
<i class="b" style="left:37px;width:12px;height:16px;background:#ff7799"></i>
<i class="b" style="left:49px;width:12px;height:16px;background:#ff799b"></i>
<i class="b" style="left:61px;width:12px;height:13px;background:#ff7f9e"></i>
<i class="b" style="left:73px;width:12px;height:12px;background:#ff809f"></i>
<i class="b" style="left:85px;width:12px;height:13px;background:#ff7f9e"></i>
</div>
<div class="c" style="left:984px;width:102px;background:#b8e67e"><span>解锁<b>(TW)</b></span></div>
<div class="c" style="left:1086px;width:99px;background:#ffffff"><span>自制</span></div>
<div class="c" style="left:1185px;width:100px;background:#b8e67e"><span>解锁<b>(TW)</b></span></div>
<div class="c L" style="left:1285px;width:157px"><span><b>FullCone</b></span></div>
</div>
<div class="r" style="top:2022px;height:32px;line-height:32px;--d:0.20px">
<div class="c L" style="left:1px;width:59px"><span><b>63</b></span></div>
<div class="c n" style="left:60px;width:254px"><span>台湾 <b>09</b></span></div>
<div class="c L" style="left:314px;width:143px"><span><b>Trojan</b></span></div>
<div class="c L" style="left:457px;width:91px;background:#95e2b7"><span><b>63ms</b></span></div>
<div class="c L" style="left:548px;width:117px;background:#1cb27d"><span><b>460ms</b></span></div>
<div class="c L" style="left:665px;width:111px;background:#ff7599"><span><b>88.39MB</b></span></div>
<div class="c L" style="left:776px;width:111px;background:#ff145b"><span><b>241.41MB</b></span></div>
<div class="c" style="left:887px;width:97px">
<i class="b" style="left:1px;width:12px;height:16px;background:#ff648f"></i>
<i class="b" style="left:13px;width:12px;height:31px;background:#ff0a54"></i>
<i class="b" style="left:25px;width:12px;height:14px;background:#ff6b93"></i>
<i class="b" style="left:37px;width:12px;height:8px;background:#ff7e9e"></i>
<i class="b" style="left:49px;width:12px;height:8px;background:#ff7e9e"></i>
<i class="b" style="left:61px;width:12px;height:7px;background:#ff83a0"></i>
<i class="b" style="left:73px;width:12px;height:4px;background:#fbacbb"></i>
<i class="b" style="left:85px;width:12px;height:3px;background:#fab7c3"></i>
</div>
<div class="c" style="left:984px;width:102px;background:#b8e67e"><span>解锁<b>(TW)</b></span></div>
<div class="c" style="left:1086px;width:99px;background:#ffffff"><span>自制</span></div>
<div class="c" style="left:1185px;width:100px;background:#b8e67e"><span>解锁<b>(TW)</b></span></div>
<div class="c L" style="left:1285px;width:157px"><span><b>FullCone</b></span></div>
</div>
<div class="r" style="top:2054px;height:32px;line-height:32px;--d:-0.20px">
<div class="c L" style="left:1px;width:59px"><span><b>64</b></span></div>
<div class="c n" style="left:60px;width:254px"><span>新加坡 <b>06</b></span></div>
<div class="c L" style="left:314px;width:143px"><span><b>Trojan</b></span></div>
<div class="c L" style="left:457px;width:91px;background:#96e2b7"><span><b>61ms</b></span></div>
<div class="c L" style="left:548px;width:117px;background:#47d59f"><span><b>257ms</b></span></div>
<div class="c L" style="left:665px;width:111px;background:#ff7699"><span><b>84.92MB</b></span></div>
<div class="c L" style="left:776px;width:111px;background:#ff6d94"><span><b>108.24MB</b></span></div>
<div class="c" style="left:887px;width:97px">
<i class="b" style="left:1px;width:12px;height:2px;background:#f8ced4"></i>
<i class="b" style="left:13px;width:12px;height:15px;background:#ff83a0"></i>
<i class="b" style="left:25px;width:12px;height:30px;background:#ff6b93"></i>
<i class="b" style="left:37px;width:12px;height:25px;background:#ff7397"></i>
<i class="b" style="left:49px;width:12px;height:30px;background:#ff6c94"></i>
<i class="b" style="left:61px;width:12px;height:29px;background:#ff6e95"></i>
<i class="b" style="left:73px;width:12px;height:29px;background:#ff6e95"></i>
<i class="b" style="left:85px;width:12px;height:29px;background:#ff6d94"></i>
</div>
<div class="c" style="left:984px;width:102px;background:#b8e67e"><span>解锁<b>(SG)</b></span></div>
<div class="c" style="left:1086px;width:99px;background:#b8e67e"><span>解锁<b>(SG)</b></span></div>
<div class="c" style="left:1185px;width:100px;background:#b8e67e"><span>解锁<b>(SG)</b></span></div>
<div class="c L" style="left:1285px;width:157px"><span><b>FullCone</b></span></div>
</div>
<div class="r" style="top:2086px;height:31px;line-height:31px;--d:-0.10px">
<div class="c L" style="left:1px;width:59px"><span><b>65</b></span></div>
<div class="c n" style="left:60px;width:254px"><span>新加坡 <b>07</b></span></div>
<div class="c L" style="left:314px;width:143px"><span><b>Trojan</b></span></div>
<div class="c L" style="left:457px;width:91px;background:#97e2b8"><span><b>56ms</b></span></div>
<div class="c L" style="left:548px;width:117px;background:#4fd6a2"><span><b>231ms</b></span></div>
<div class="c L" style="left:665px;width:111px;background:#ff799b"><span><b>79.25MB</b></span></div>
<div class="c L" style="left:776px;width:111px;background:#ff6a92"><span><b>115.07MB</b></span></div>
<div class="c" style="left:887px;width:97px">
<i class="b" style="left:1px;width:12px;height:1px;background:#f9d5da"></i>
<i class="b" style="left:13px;width:12px;height:16px;background:#ff7f9e"></i>
<i class="b" style="left:25px;width:12px;height:25px;background:#ff7096"></i>
<i class="b" style="left:37px;width:12px;height:21px;background:#ff779a"></i>
<i class="b" style="left:49px;width:12px;height:19px;background:#ff7b9c"></i>
<i class="b" style="left:61px;width:12px;height:23px;background:#ff7398"></i>
<i class="b" style="left:73px;width:12px;height:29px;background:#ff6992"></i>
<i class="b" style="left:85px;width:12px;height:28px;background:#ff6c93"></i>
</div>
<div class="c" style="left:984px;width:102px;background:#b8e67e"><span>解锁<b>(SG)</b></span></div>
<div class="c" style="left:1086px;width:99px;background:#b8e67e"><span>解锁<b>(SG)</b></span></div>
<div class="c" style="left:1185px;width:100px;background:#b8e67e"><span>解锁<b>(SG)</b></span></div>
<div class="c L" style="left:1285px;width:157px"><span><b>FullCone</b></span></div>
</div>
<div class="r" style="top:2117px;height:32px;line-height:32px;--d:0.00px">
<div class="c L" style="left:1px;width:59px"><span><b>66</b></span></div>
<div class="c n" style="left:60px;width:254px"><span>土耳其 <b>01</b></span></div>
<div class="c L" style="left:314px;width:143px"><span><b>Trojan</b></span></div>
<div class="c L" style="left:457px;width:91px;background:#41d39c"><span><b>278ms</b></span></div>
<div class="c L" style="left:548px;width:117px;background:#03936a"><span><b>1232ms</b></span></div>
<div class="c L" style="left:665px;width:111px;background:#ff7c9c"><span><b>72.15MB</b></span></div>
<div class="c L" style="left:776px;width:111px;background:#ff6c94"><span><b>109.08MB</b></span></div>
<div class="c" style="left:887px;width:97px">
<i class="b" style="left:1px;width:12px;height:2px;background:#f8d3d9"></i>
<i class="b" style="left:13px;width:12px;height:12px;background:#fe8fa7"></i>
<i class="b" style="left:25px;width:12px;height:23px;background:#ff7699"></i>
<i class="b" style="left:37px;width:12px;height:29px;background:#ff6d94"></i>
<i class="b" style="left:49px;width:12px;height:30px;background:#ff6c94"></i>
<i class="b" style="left:61px;width:12px;height:30px;background:#ff6c94"></i>
<i class="b" style="left:73px;width:12px;height:30px;background:#ff6c93"></i>
<i class="b" style="left:85px;width:12px;height:4px;background:#f7c7ce"></i>
</div>
<div class="c" style="left:984px;width:102px;background:#b8e67e"><span>解锁<b>(TR)</b></span></div>
<div class="c" style="left:1086px;width:99px;background:#ffffff"><span>自制</span></div>
<div class="c" style="left:1185px;width:100px;background:#fbd190"><span>送中<b>(CN)</b></span></div>
<div class="c L" style="left:1285px;width:157px"><span><b>FullCone</b></span></div>
</div>
<div class="r" style="top:2149px;height:31px;line-height:31px;--d:0.10px">
<div class="c L" style="left:1px;width:59px"><span><b>67</b></span></div>
<div class="c n" style="left:60px;width:254px"><span>美国 <b>01</b></span></div>
<div class="c L" style="left:314px;width:143px"><span><b>Trojan</b></span></div>
<div class="c L" style="left:457px;width:91px;background:#55d7a4"><span><b>210ms</b></span></div>
<div class="c L" style="left:548px;width:117px;background:#03916a"><span><b>1577ms</b></span></div>
<div class="c L" style="left:665px;width:111px;background:#ff7c9c"><span><b>70.59MB</b></span></div>
<div class="c L" style="left:776px;width:111px;background:#ff7398"><span><b>92.73MB</b></span></div>
<div class="c" style="left:887px;width:97px">
<i class="b" style="left:1px;width:12px;height:12px;background:#fd9cb0"></i>
<i class="b" style="left:13px;width:12px;height:25px;background:#ff789a"></i>
<i class="b" style="left:25px;width:12px;height:26px;background:#ff7699"></i>
<i class="b" style="left:37px;width:12px;height:29px;background:#ff7297"></i>
<i class="b" style="left:49px;width:12px;height:26px;background:#ff7699"></i>
<i class="b" style="left:61px;width:12px;height:27px;background:#ff7599"></i>
<i class="b" style="left:73px;width:12px;height:26px;background:#ff7699"></i>
<i class="b" style="left:85px;width:12px;height:5px;background:#f8c5cc"></i>
</div>
<div class="c" style="left:984px;width:102px;background:#b8e67e"><span>解锁<b>(US)</b></span></div>
<div class="c" style="left:1086px;width:99px;background:#b8e67e"><span>解锁<b>(US)</b></span></div>
<div class="c" style="left:1185px;width:100px;background:#b8e67e"><span>解锁<b>(US)</b></span></div>
<div class="c L" style="left:1285px;width:157px"><span><b>FullCone</b></span></div>
</div>
<div class="r" style="top:2180px;height:32px;line-height:32px;--d:0.20px">
<div class="c L" style="left:1px;width:59px"><span><b>68</b></span></div>
<div class="c n" style="left:60px;width:254px"><span>台湾 <b>06</b></span></div>
<div class="c L" style="left:314px;width:143px"><span><b>Trojan</b></span></div>
<div class="c L" style="left:457px;width:91px;background:#96e2b7"><span><b>60ms</b></span></div>
<div class="c L" style="left:548px;width:117px;background:#099b6e"><span><b>679ms</b></span></div>
<div class="c L" style="left:665px;width:111px;background:#ff7d9d"><span><b>68.93MB</b></span></div>
<div class="c L" style="left:776px;width:111px;background:#ff7096"><span><b>100.78MB</b></span></div>
<div class="c" style="left:887px;width:97px">
<i class="b" style="left:1px;width:12px;height:19px;background:#ff7e9e"></i>
<i class="b" style="left:13px;width:12px;height:30px;background:#ff6f95"></i>
<i class="b" style="left:25px;width:12px;height:23px;background:#ff7a9b"></i>
<i class="b" style="left:37px;width:12px;height:20px;background:#ff7e9d"></i>
<i class="b" style="left:49px;width:12px;height:20px;background:#ff7d9d"></i>
<i class="b" style="left:61px;width:12px;height:18px;background:#ff809e"></i>
<i class="b" style="left:73px;width:12px;height:17px;background:#ff829f"></i>
<i class="b" style="left:85px;width:12px;height:17px;background:#ff819f"></i>
</div>
<div class="c" style="left:984px;width:102px;background:#b8e67e"><span>解锁<b>(TW)</b></span></div>
<div class="c" style="left:1086px;width:99px;background:#ffffff"><span>自制</span></div>
<div class="c" style="left:1185px;width:100px;background:#b8e67e"><span>解锁<b>(TW)</b></span></div>
<div class="c L" style="left:1285px;width:157px"><span><b>FullCone</b></span></div>
</div>
<div class="r" style="top:2212px;height:32px;line-height:32px;--d:-0.20px">
<div class="c L" style="left:1px;width:59px"><span><b>69</b></span></div>
<div class="c n" style="left:60px;width:254px"><span>台湾 <b>10</b></span></div>
<div class="c L" style="left:314px;width:143px"><span><b>Trojan</b></span></div>
<div class="c L" style="left:457px;width:91px;background:#96e2b8"><span><b>58ms</b></span></div>
<div class="c L" style="left:548px;width:117px;background:#52d7a3"><span><b>221ms</b></span></div>
<div class="c L" style="left:665px;width:111px;background:#ff83a0"><span><b>55.91MB</b></span></div>
<div class="c L" style="left:776px;width:111px;background:#ff648f"><span><b>129.94MB</b></span></div>
<div class="c" style="left:887px;width:97px">
<i class="b" style="left:1px;width:12px;height:14px;background:#ff809e"></i>
<i class="b" style="left:13px;width:12px;height:30px;background:#ff638e"></i>
<i class="b" style="left:25px;width:12px;height:20px;background:#ff7599"></i>
<i class="b" style="left:37px;width:12px;height:20px;background:#ff7599"></i>
<i class="b" style="left:49px;width:12px;height:12px;background:#ff84a0"></i>
<i class="b" style="left:61px;width:12px;height:8px;background:#fca3b5"></i>
</div>
<div class="c" style="left:984px;width:102px;background:#b8e67e"><span>解锁<b>(TW)</b></span></div>
<div class="c" style="left:1086px;width:99px;background:#ffffff"><span>自制</span></div>
<div class="c" style="left:1185px;width:100px;background:#b8e67e"><span>解锁<b>(TW)</b></span></div>
<div class="c L" style="left:1285px;width:157px"><span><b>FullCone</b></span></div>
</div>
<div class="r" style="top:2244px;height:31px;line-height:31px;--d:-0.10px">
<div class="c L" style="left:1px;width:59px"><span><b>70</b></span></div>
<div class="c n" style="left:60px;width:254px"><span>马来西亚 <b>05</b></span></div>
<div class="c L" style="left:314px;width:143px"><span><b>Trojan</b></span></div>
<div class="c L" style="left:457px;width:91px;background:#90dfb3"><span><b>86ms</b></span></div>
<div class="c L" style="left:548px;width:117px;background:#17aa77"><span><b>508ms</b></span></div>
<div class="c L" style="left:665px;width:111px;background:#f7cad0"><span><b>10.57MB</b></span></div>
<div class="c L" style="left:776px;width:111px;background:#f7c9cf"><span><b>11.77MB</b></span></div>
<div class="c" style="left:887px;width:97px">
<i class="b" style="left:1px;width:12px;height:8px;background:#f7c8ce"></i>
<i class="b" style="left:13px;width:12px;height:6px;background:#f7cad0"></i>
<i class="b" style="left:25px;width:12px;height:7px;background:#f7c8cf"></i>
<i class="b" style="left:37px;width:12px;height:6px;background:#f7cad0"></i>
<i class="b" style="left:49px;width:12px;height:6px;background:#f7cad0"></i>
<i class="b" style="left:61px;width:12px;height:7px;background:#f7c8cf"></i>
<i class="b" style="left:73px;width:12px;height:6px;background:#f7cad0"></i>
<i class="b" style="left:85px;width:12px;height:7px;background:#f7c9cf"></i>
</div>
<div class="c" style="left:984px;width:102px;background:#8c8c8c"><span><b>N/A</b></span></div>
<div class="c" style="left:1086px;width:99px;background:#8c8c8c"><span><b>N/A</b></span></div>
<div class="c" style="left:1185px;width:100px;background:#fbd190"><span>送中<b>(CN)</b></span></div>
<div class="c L" style="left:1285px;width:157px"><span><b>FullCone</b></span></div>
</div>
<div class="r" style="top:2275px;height:32px;line-height:32px;--d:0.00px">
<div class="c L" style="left:1px;width:59px"><span><b>71</b></span></div>
<div class="c n" style="left:60px;width:254px"><span>马来西亚 <b>02</b></span></div>
<div class="c L" style="left:314px;width:143px"><span><b>Trojan</b></span></div>
<div class="c L" style="left:457px;width:91px;background:#90dfb3"><span><b>88ms</b></span></div>
<div class="c L" style="left:548px;width:117px;background:#30ca92"><span><b>340ms</b></span></div>
<div class="c L" style="left:665px;width:111px;background:#f7cbd1"><span><b>9.40MB</b></span></div>
<div class="c L" style="left:776px;width:111px;background:#f7c9cf"><span><b>11.04MB</b></span></div>
<div class="c" style="left:887px;width:97px">
<i class="b" style="left:1px;width:12px;height:7px;background:#f7c9cf"></i>
<i class="b" style="left:13px;width:12px;height:7px;background:#f7c9cf"></i>
<i class="b" style="left:25px;width:12px;height:7px;background:#f7c9cf"></i>
<i class="b" style="left:37px;width:12px;height:7px;background:#f7c9cf"></i>
<i class="b" style="left:49px;width:12px;height:7px;background:#f7c9cf"></i>
<i class="b" style="left:61px;width:12px;height:7px;background:#f7c9cf"></i>
<i class="b" style="left:73px;width:12px;height:7px;background:#f7c9cf"></i>
<i class="b" style="left:85px;width:12px;height:1px;background:#fadde1"></i>
</div>
<div class="c" style="left:984px;width:102px;background:#8c8c8c"><span><b>N/A</b></span></div>
<div class="c" style="left:1086px;width:99px;background:#8c8c8c"><span><b>N/A</b></span></div>
<div class="c" style="left:1185px;width:100px;background:#fbd190"><span>送中<b>(CN)</b></span></div>
<div class="c L" style="left:1285px;width:157px"><span><b>FullCone</b></span></div>
</div>
<div class="r" style="top:2307px;height:31px;line-height:31px;--d:0.10px">
<div class="c L" style="left:1px;width:59px"><span><b>72</b></span></div>
<div class="c n" style="left:60px;width:254px"><span>马来西亚 <b>03</b></span></div>
<div class="c L" style="left:314px;width:143px"><span><b>Trojan</b></span></div>
<div class="c L" style="left:457px;width:91px;background:#94e1b6"><span><b>68ms</b></span></div>
<div class="c L" style="left:548px;width:117px;background:#28c28a"><span><b>376ms</b></span></div>
<div class="c L" style="left:665px;width:111px;background:#f7ccd2"><span><b>8.91MB</b></span></div>
<div class="c L" style="left:776px;width:111px;background:#f7cad0"><span><b>10.61MB</b></span></div>
<div class="c" style="left:887px;width:97px">
<i class="b" style="left:1px;width:12px;height:6px;background:#f7cad0"></i>
<i class="b" style="left:13px;width:12px;height:6px;background:#f7cad0"></i>
<i class="b" style="left:25px;width:12px;height:6px;background:#f7c9cf"></i>
<i class="b" style="left:37px;width:12px;height:6px;background:#f7cad0"></i>
<i class="b" style="left:49px;width:12px;height:6px;background:#f7c9cf"></i>
<i class="b" style="left:61px;width:12px;height:6px;background:#f7c9cf"></i>
<i class="b" style="left:73px;width:12px;height:6px;background:#f7cad0"></i>
<i class="b" style="left:85px;width:12px;height:1px;background:#fadde1"></i>
</div>
<div class="c" style="left:984px;width:102px;background:#8c8c8c"><span><b>N/A</b></span></div>
<div class="c" style="left:1086px;width:99px;background:#8c8c8c"><span><b>N/A</b></span></div>
<div class="c" style="left:1185px;width:100px;background:#fbd190"><span>送中<b>(CN)</b></span></div>
<div class="c L" style="left:1285px;width:157px"><span><b>Unknown</b></span></div>
</div>
<div class="r" style="top:2338px;height:32px;line-height:32px;--d:0.20px">
<div class="c L" style="left:1px;width:59px"><span><b>73</b></span></div>
<div class="c n" style="left:60px;width:254px"><span>马来西亚 <b>04</b></span></div>
<div class="c L" style="left:314px;width:143px"><span><b>Trojan</b></span></div>
<div class="c L" style="left:457px;width:91px;background:#8ddeb1"><span><b>98ms</b></span></div>
<div class="c L" style="left:548px;width:117px;background:#2cc58d"><span><b>360ms</b></span></div>
<div class="c L" style="left:665px;width:111px;background:#f7cdd3"><span><b>8.65MB</b></span></div>
<div class="c L" style="left:776px;width:111px;background:#f7c9cf"><span><b>10.91MB</b></span></div>
<div class="c" style="left:887px;width:97px">
<i class="b" style="left:1px;width:12px;height:7px;background:#f7c9cf"></i>
<i class="b" style="left:13px;width:12px;height:7px;background:#f7c9cf"></i>
<i class="b" style="left:25px;width:12px;height:7px;background:#f7c9cf"></i>
<i class="b" style="left:37px;width:12px;height:6px;background:#f7cad0"></i>
<i class="b" style="left:49px;width:12px;height:7px;background:#f7c9cf"></i>
<i class="b" style="left:61px;width:12px;height:7px;background:#f7c9cf"></i>
<i class="b" style="left:73px;width:12px;height:5px;background:#f7ced3"></i>
</div>
<div class="c" style="left:984px;width:102px;background:#8c8c8c"><span><b>N/A</b></span></div>
<div class="c" style="left:1086px;width:99px;background:#8c8c8c"><span><b>N/A</b></span></div>
<div class="c" style="left:1185px;width:100px;background:#fbd190"><span>送中<b>(CN)</b></span></div>
<div class="c L" style="left:1285px;width:157px"><span><b>Unknown</b></span></div>
</div>
<div class="r" style="top:2370px;height:32px;line-height:32px;--d:-0.20px">
<div class="c L" style="left:1px;width:59px"><span><b>74</b></span></div>
<div class="c n" style="left:60px;width:254px"><span>马来西亚 <b>01</b></span></div>
<div class="c L" style="left:314px;width:143px"><span><b>Trojan</b></span></div>
<div class="c L" style="left:457px;width:91px;background:#96e2b7"><span><b>61ms</b></span></div>
<div class="c L" style="left:548px;width:117px;background:#2ec890"><span><b>349ms</b></span></div>
<div class="c L" style="left:665px;width:111px;background:#f7ced3"><span><b>8.36MB</b></span></div>
<div class="c L" style="left:776px;width:111px;background:#f7c8cf"><span><b>11.96MB</b></span></div>
<div class="c" style="left:887px;width:97px">
<i class="b" style="left:1px;width:12px;height:6px;background:#f7cad0"></i>
<i class="b" style="left:13px;width:12px;height:3px;background:#f8d3d8"></i>
<i class="b" style="left:25px;width:12px;height:4px;background:#f8d0d5"></i>
<i class="b" style="left:37px;width:12px;height:4px;background:#f8d0d5"></i>
<i class="b" style="left:49px;width:12px;height:7px;background:#f7c9cf"></i>
<i class="b" style="left:61px;width:12px;height:4px;background:#f8d0d5"></i>
<i class="b" style="left:73px;width:12px;height:8px;background:#f7c8ce"></i>
<i class="b" style="left:85px;width:12px;height:3px;background:#f8d3d8"></i>
</div>
<div class="c" style="left:984px;width:102px;background:#8c8c8c"><span><b>N/A</b></span></div>
<div class="c" style="left:1086px;width:99px;background:#8c8c8c"><span><b>N/A</b></span></div>
<div class="c" style="left:1185px;width:100px;background:#fbd190"><span>送中<b>(CN)</b></span></div>
<div class="c L" style="left:1285px;width:157px"><span><b>FullCone</b></span></div>
</div>
<div class="r" style="top:2402px;height:31px;line-height:31px;--d:-0.10px">
<div class="c L" style="left:1px;width:59px"><span><b>75</b></span></div>
<div class="c n" style="left:60px;width:254px"><span>阿根廷 <b>01</b></span></div>
<div class="c L" style="left:314px;width:143px"><span><b>Trojan</b></span></div>
<div class="c L" style="left:457px;width:91px;background:#24bf87"><span><b>390ms</b></span></div>
<div class="c L" style="left:548px;width:117px;background:#03916a"><span><b>1572ms</b></span></div>
<div class="c L" style="left:665px;width:111px;background:#f8d5da"><span><b>5.13MB</b></span></div>
<div class="c L" style="left:776px;width:111px;background:#f7c9cf"><span><b>10.89MB</b></span></div>
<div class="c" style="left:887px;width:97px">
<i class="b" style="left:1px;width:12px;height:1px;background:#fadfe3"></i>
<i class="b" style="left:13px;width:12px;height:4px;background:#f8d2d7"></i>
<i class="b" style="left:25px;width:12px;height:5px;background:#f7ccd2"></i>
<i class="b" style="left:37px;width:12px;height:3px;background:#f8d3d8"></i>
<i class="b" style="left:49px;width:12px;height:3px;background:#f9d6db"></i>
<i class="b" style="left:61px;width:12px;height:7px;background:#f7c8cf"></i>
<i class="b" style="left:73px;width:12px;height:4px;background:#f8d1d6"></i>
</div>
<div class="c" style="left:984px;width:102px;background:#b8e67e"><span>解锁<b>(HK)</b></span></div>
<div class="c" style="left:1086px;width:99px;background:#8c8c8c"><span><b>N/A</b></span></div>
<div class="c" style="left:1185px;width:100px;background:#b8e67e"><span>解锁<b>(AR)</b></span></div>
<div class="c L" style="left:1285px;width:157px"><span><b>FullCone</b></span></div>
</div>
<div class="r" style="top:2433px;height:32px;line-height:32px;--d:0.00px">
<div class="c L" style="left:1px;width:59px"><span><b>76</b></span></div>
<div class="c n" style="left:60px;width:254px"><span>美国 <b>02</b></span></div>
<div class="c L" style="left:314px;width:143px"><span><b>Trojan</b></span></div>
<div class="c L" style="left:457px;width:91px;background:#ebfbf3"><span><b>-</b></span></div>
<div class="c L" style="left:548px;width:117px;background:#ebfbf3"><span><b>-</b></span></div>
<div class="c L" style="left:665px;width:111px;background:#fae0e4"><span><b>0.00B</b></span></div>
<div class="c L" style="left:776px;width:111px;background:#fae0e4"><span><b>0.00B</b></span></div>
<div class="c" style="left:887px;width:97px">
</div>
<div class="c" style="left:984px;width:102px;background:#8c8c8c"><span><b>N/A</b></span></div>
<div class="c" style="left:1086px;width:99px;background:#8c8c8c"><span><b>N/A</b></span></div>
<div class="c" style="left:1185px;width:100px;background:#8c8c8c"><span><b>N/A</b></span></div>
<div class="c L" style="left:1285px;width:157px"><span><b>Unknown</b></span></div>
</div>
<div class="r" style="top:2465px;height:31px;line-height:31px;--d:0.10px"><div class="f" style="left:38px;font-size:18.80px">已核实 <b>TLS</b> 证书。<b>TLS RTT</b> 为单次数据交换延迟， <b>HTTPS Ping</b> 为单次请求体感延迟。</div></div>
<div class="r" style="top:2496px;height:32px;line-height:32px;--d:0.20px"><div class="f" style="left:11px;font-size:19.63px">主端<b>=4.3.3 (697)</b> 喵速<b>=5.0.0-beta6 (A3-</b>广东深圳电信<b>(2Gbps)),</b> 线程<b>=8</b> 概要<b>=76/76</b> 排序<b>=</b>平均速度降序 过滤器<b>=</b></div></div>
<div class="r" style="top:2528px;height:32px;line-height:32px;--d:-0.20px"><div class="f" style="left:11px;font-size:19.05px">测试时间：<b>2025-06-03 13:02:32 (CST)</b>，本测试为试验性结果，仅供参考。</div></div>
<svg style="position:absolute;left:14px;top:2473px" width="16" height="16" viewBox="0 0 16 16"><rect x="0.3" y="0.3" width="15" height="15" rx="2.2" fill="#7b9a52"/><path d="M3.2 8.3 L6.3 11.6 L12.6 3.6" fill="none" stroke="#fff" stroke-width="2.1"/></svg>
<div class="hl" style="top:63px"></div>
<div class="hl" style="top:95px"></div>
<div class="hl" style="top:126px"></div>
<div class="hl" style="top:158px"></div>
<div class="hl" style="top:190px"></div>
<div class="hl" style="top:221px"></div>
<div class="hl" style="top:253px"></div>
<div class="hl" style="top:284px"></div>
<div class="hl" style="top:316px"></div>
<div class="hl" style="top:348px"></div>
<div class="hl" style="top:379px"></div>
<div class="hl" style="top:411px"></div>
<div class="hl" style="top:442px"></div>
<div class="hl" style="top:474px"></div>
<div class="hl" style="top:506px"></div>
<div class="hl" style="top:537px"></div>
<div class="hl" style="top:569px"></div>
<div class="hl" style="top:600px"></div>
<div class="hl" style="top:632px"></div>
<div class="hl" style="top:664px"></div>
<div class="hl" style="top:695px"></div>
<div class="hl" style="top:727px"></div>
<div class="hl" style="top:758px"></div>
<div class="hl" style="top:790px"></div>
<div class="hl" style="top:822px"></div>
<div class="hl" style="top:853px"></div>
<div class="hl" style="top:885px"></div>
<div class="hl" style="top:916px"></div>
<div class="hl" style="top:948px"></div>
<div class="hl" style="top:980px"></div>
<div class="hl" style="top:1011px"></div>
<div class="hl" style="top:1043px"></div>
<div class="hl" style="top:1074px"></div>
<div class="hl" style="top:1106px"></div>
<div class="hl" style="top:1138px"></div>
<div class="hl" style="top:1169px"></div>
<div class="hl" style="top:1201px"></div>
<div class="hl" style="top:1232px"></div>
<div class="hl" style="top:1264px"></div>
<div class="hl" style="top:1296px"></div>
<div class="hl" style="top:1327px"></div>
<div class="hl" style="top:1359px"></div>
<div class="hl" style="top:1390px"></div>
<div class="hl" style="top:1422px"></div>
<div class="hl" style="top:1454px"></div>
<div class="hl" style="top:1485px"></div>
<div class="hl" style="top:1517px"></div>
<div class="hl" style="top:1548px"></div>
<div class="hl" style="top:1580px"></div>
<div class="hl" style="top:1612px"></div>
<div class="hl" style="top:1643px"></div>
<div class="hl" style="top:1675px"></div>
<div class="hl" style="top:1706px"></div>
<div class="hl" style="top:1738px"></div>
<div class="hl" style="top:1770px"></div>
<div class="hl" style="top:1801px"></div>
<div class="hl" style="top:1833px"></div>
<div class="hl" style="top:1864px"></div>
<div class="hl" style="top:1896px"></div>
<div class="hl" style="top:1928px"></div>
<div class="hl" style="top:1959px"></div>
<div class="hl" style="top:1991px"></div>
<div class="hl" style="top:2022px"></div>
<div class="hl" style="top:2054px"></div>
<div class="hl" style="top:2086px"></div>
<div class="hl" style="top:2117px"></div>
<div class="hl" style="top:2149px"></div>
<div class="hl" style="top:2180px"></div>
<div class="hl" style="top:2212px"></div>
<div class="hl" style="top:2244px"></div>
<div class="hl" style="top:2275px"></div>
<div class="hl" style="top:2307px"></div>
<div class="hl" style="top:2338px"></div>
<div class="hl" style="top:2370px"></div>
<div class="hl" style="top:2402px"></div>
<div class="hl" style="top:2433px"></div>
<div class="hl" style="top:2465px"></div>
<div class="hl" style="top:32px;height:1px;background:rgba(255,255,255,.35)"></div>
<div class="hl" style="top:2496px;height:1px;background:rgba(255,255,255,.35)"></div>
<div class="hl" style="top:2528px;height:1px;background:rgba(255,255,255,.35)"></div>
<div class="vl" style="left:60px;top:63px;height:2402px"></div>
<div class="vl" style="left:314px;top:63px;height:2402px"></div>
<div class="vl" style="left:457px;top:63px;height:2402px"></div>
<div class="vl" style="left:548px;top:63px;height:2402px"></div>
<div class="vl" style="left:665px;top:63px;height:2402px"></div>
<div class="vl" style="left:776px;top:63px;height:2402px"></div>
<div class="vl" style="left:887px;top:63px;height:2402px"></div>
<div class="vl" style="left:984px;top:63px;height:2402px"></div>
<div class="vl" style="left:1086px;top:63px;height:2402px"></div>
<div class="vl" style="left:1185px;top:63px;height:2402px"></div>
<div class="vl" style="left:1285px;top:63px;height:2402px"></div>
<div class="wm" style="left:574px;top:-21px">NodeFunction</div>
<div class="wm" style="left:574px;top:148px">NodeFunction</div>
<div class="wm" style="left:574px;top:317px">NodeFunction</div>
<div class="wm" style="left:574px;top:486px">NodeFunction</div>
<div class="wm" style="left:574px;top:655px">NodeFunction</div>
<div class="wm" style="left:574px;top:824px">NodeFunction</div>
<div class="wm" style="left:574px;top:993px">NodeFunction</div>
<div class="wm" style="left:574px;top:1162px">NodeFunction</div>
<div class="wm" style="left:574px;top:1331px">NodeFunction</div>
<div class="wm" style="left:574px;top:1500px">NodeFunction</div>
<div class="wm" style="left:574px;top:1669px">NodeFunction</div>
<div class="wm" style="left:574px;top:1838px">NodeFunction</div>
<div class="wm" style="left:574px;top:2007px">NodeFunction</div>
<div class="wm" style="left:574px;top:2176px">NodeFunction</div>
<div class="wm" style="left:574px;top:2345px">NodeFunction</div>
<div class="wm" style="left:574px;top:2514px">NodeFunction</div>
<svg style="position:absolute;left:1218px;top:2488px" width="220" height="72" viewBox="0 0 220 72">
<g fill="none" stroke="#f2728c" stroke-width="4"><rect x="3" y="5" width="58" height="60" rx="6"/></g>
<text x="12" y="53" font-size="44" fill="#f2728c" font-family="Noto Sans CJK SC, sans-serif" font-weight="700">灯</text>
<text transform="translate(86,39) scale(1.24,0.98)" font-size="44" fill="#f2728c" font-family="Noto Sans CJK SC, sans-serif" font-weight="700">壹</text>
<text transform="translate(159,38) scale(1.3,0.95)" font-size="44" fill="#f2728c" font-family="Noto Sans CJK SC, sans-serif" font-weight="700">灯</text>
<text x="86" y="67" font-size="30" fill="#f2728c" font-family="Liberation Sans, sans-serif" font-style="italic" font-weight="700" textLength="128">imNM.cc</text>
</svg>
<div style="position:absolute;left:0;top:0;width:1443px;height:2560px;box-sizing:border-box;border:1px solid #111"></div>
</body></html>
